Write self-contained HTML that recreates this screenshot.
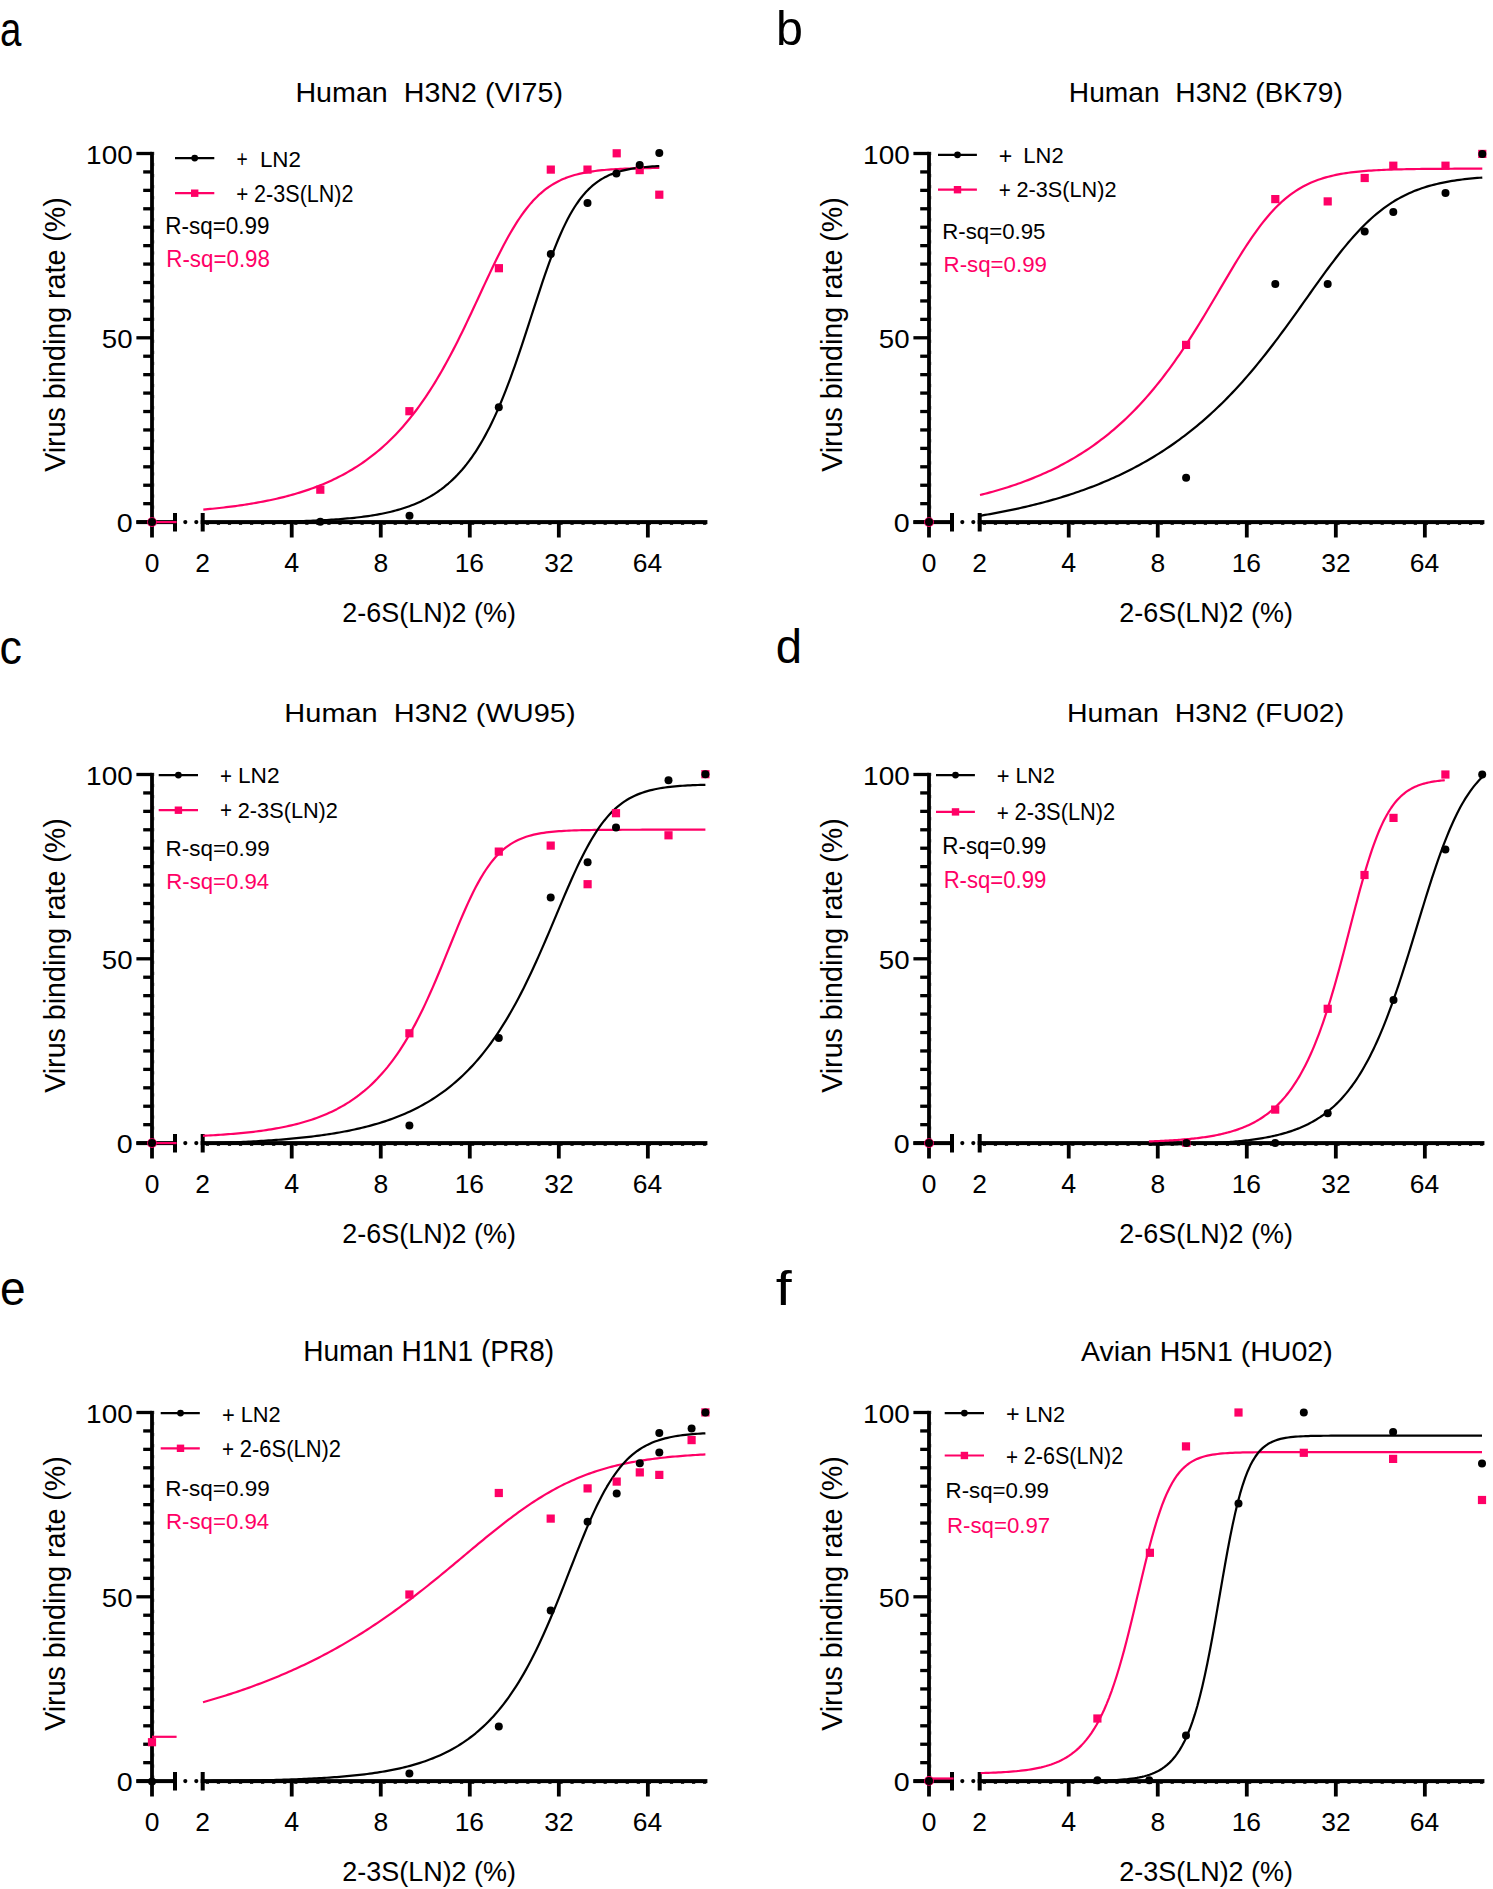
<!DOCTYPE html>
<html><head><meta charset="utf-8"><style>
html,body{margin:0;padding:0;background:#fff;}
svg{display:block;}
text{font-family:"Liberation Sans", sans-serif;}
</style></head><body>
<svg width="1493" height="1889" viewBox="0 0 1493 1889">
<rect width="1493" height="1889" fill="#fff"/>
<text x="-0.04" y="45.80" font-size="48.00" textLength="21.39" lengthAdjust="spacingAndGlyphs" fill="#000" xml:space="preserve">a</text>
<text x="776.10" y="45.00" font-size="48.00" textLength="26.89" lengthAdjust="spacingAndGlyphs" fill="#000" xml:space="preserve">b</text>
<text x="-0.39" y="663.80" font-size="48.00" textLength="22.41" lengthAdjust="spacingAndGlyphs" fill="#000" xml:space="preserve">c</text>
<text x="775.71" y="663.40" font-size="48.00" textLength="26.28" lengthAdjust="spacingAndGlyphs" fill="#000" xml:space="preserve">d</text>
<text x="-0.04" y="1305.20" font-size="48.00" textLength="25.64" lengthAdjust="spacingAndGlyphs" fill="#000" xml:space="preserve">e</text>
<text x="775.83" y="1304.60" font-size="48.00" textLength="15.95" lengthAdjust="spacingAndGlyphs" fill="#000" xml:space="preserve">f</text>
<text x="295.41" y="101.70" font-size="27.91" textLength="267.53" lengthAdjust="spacingAndGlyphs" fill="#000" xml:space="preserve">Human  H3N2 (VI75)</text>
<text x="1068.85" y="102.10" font-size="27.62" textLength="274.04" lengthAdjust="spacingAndGlyphs" fill="#000" xml:space="preserve">Human  H3N2 (BK79)</text>
<text x="284.38" y="722.10" font-size="26.45" textLength="291.21" lengthAdjust="spacingAndGlyphs" fill="#000" xml:space="preserve">Human  H3N2 (WU95)</text>
<text x="1067.02" y="722.10" font-size="26.45" textLength="277.20" lengthAdjust="spacingAndGlyphs" fill="#000" xml:space="preserve">Human  H3N2 (FU02)</text>
<text x="303.16" y="1360.90" font-size="29.07" textLength="251.06" lengthAdjust="spacingAndGlyphs" fill="#000" xml:space="preserve">Human H1N1 (PR8)</text>
<text x="1081.00" y="1361.10" font-size="28.20" textLength="251.67" lengthAdjust="spacingAndGlyphs" fill="#000" xml:space="preserve">Avian H5N1 (HU02)</text>
<rect x="150.10" y="151.85" width="3.80" height="385.65" fill="#000"/>
<rect x="136.40" y="520.45" width="15.60" height="3.30" fill="#000"/>
<rect x="143.20" y="502.02" width="8.80" height="3.30" fill="#000"/>
<rect x="143.20" y="483.59" width="8.80" height="3.30" fill="#000"/>
<rect x="143.20" y="465.16" width="8.80" height="3.30" fill="#000"/>
<rect x="143.20" y="446.73" width="8.80" height="3.30" fill="#000"/>
<rect x="143.20" y="428.30" width="8.80" height="3.30" fill="#000"/>
<rect x="143.20" y="409.87" width="8.80" height="3.30" fill="#000"/>
<rect x="143.20" y="391.44" width="8.80" height="3.30" fill="#000"/>
<rect x="143.20" y="373.01" width="8.80" height="3.30" fill="#000"/>
<rect x="143.20" y="354.58" width="8.80" height="3.30" fill="#000"/>
<rect x="136.40" y="336.15" width="15.60" height="3.30" fill="#000"/>
<rect x="143.20" y="317.72" width="8.80" height="3.30" fill="#000"/>
<rect x="143.20" y="299.29" width="8.80" height="3.30" fill="#000"/>
<rect x="143.20" y="280.86" width="8.80" height="3.30" fill="#000"/>
<rect x="143.20" y="262.43" width="8.80" height="3.30" fill="#000"/>
<rect x="143.20" y="244.00" width="8.80" height="3.30" fill="#000"/>
<rect x="143.20" y="225.57" width="8.80" height="3.30" fill="#000"/>
<rect x="143.20" y="207.14" width="8.80" height="3.30" fill="#000"/>
<rect x="143.20" y="188.71" width="8.80" height="3.30" fill="#000"/>
<rect x="143.20" y="170.28" width="8.80" height="3.30" fill="#000"/>
<rect x="136.40" y="151.85" width="15.60" height="3.30" fill="#000"/>
<rect x="136.40" y="520.10" width="40.60" height="4.00" fill="#000"/>
<rect x="173.00" y="513.00" width="4.00" height="18.50" fill="#000"/>
<circle cx="185.30" cy="522.10" r="2.1" fill="#000"/>
<circle cx="196.30" cy="522.10" r="2.1" fill="#000"/>
<rect x="200.70" y="513.00" width="4.00" height="18.50" fill="#000"/>
<rect x="200.70" y="520.10" width="506.70" height="4.00" fill="#000"/>
<rect x="289.83" y="522.10" width="3.80" height="15.40" fill="#000"/>
<rect x="378.86" y="522.10" width="3.80" height="15.40" fill="#000"/>
<rect x="467.89" y="522.10" width="3.80" height="15.40" fill="#000"/>
<rect x="556.92" y="522.10" width="3.80" height="15.40" fill="#000"/>
<rect x="645.95" y="522.10" width="3.80" height="15.40" fill="#000"/>
<line x1="205.80" y1="524.40" x2="707.40" y2="524.40" stroke="#000" stroke-opacity="0.8" stroke-width="1.1" stroke-dasharray="3.2 7.85"/>
<line x1="153.90" y1="151.90" x2="153.90" y2="522.10" stroke="#000" stroke-opacity="0.5" stroke-width="0.8" stroke-dasharray="3.2 7.85"/>
<text x="86.11" y="163.75" font-size="26.43" textLength="46.57" lengthAdjust="spacingAndGlyphs" fill="#000" xml:space="preserve">100</text>
<text x="101.89" y="348.05" font-size="26.43" textLength="30.74" lengthAdjust="spacingAndGlyphs" fill="#000" xml:space="preserve">50</text>
<text x="116.70" y="532.35" font-size="26.43" textLength="15.94" lengthAdjust="spacingAndGlyphs" fill="#000" xml:space="preserve">0</text>
<text x="144.67" y="571.50" font-size="26.43" textLength="14.70" lengthAdjust="spacingAndGlyphs" fill="#000" xml:space="preserve">0</text>
<text x="195.30" y="571.50" font-size="26.43" textLength="14.70" lengthAdjust="spacingAndGlyphs" fill="#000" xml:space="preserve">2</text>
<text x="284.36" y="571.50" font-size="26.81" textLength="14.91" lengthAdjust="spacingAndGlyphs" fill="#000" xml:space="preserve">4</text>
<text x="373.43" y="571.50" font-size="26.43" textLength="14.70" lengthAdjust="spacingAndGlyphs" fill="#000" xml:space="preserve">8</text>
<text x="454.66" y="571.50" font-size="26.43" textLength="29.40" lengthAdjust="spacingAndGlyphs" fill="#000" xml:space="preserve">16</text>
<text x="544.28" y="571.50" font-size="26.43" textLength="29.40" lengthAdjust="spacingAndGlyphs" fill="#000" xml:space="preserve">32</text>
<text x="632.85" y="571.50" font-size="26.43" textLength="29.40" lengthAdjust="spacingAndGlyphs" fill="#000" xml:space="preserve">64</text>
<text transform="translate(65.20,471.80) rotate(-90)" x="0" y="0" font-size="29.22" textLength="274.54" lengthAdjust="spacingAndGlyphs" fill="#000" xml:space="preserve">Virus binding rate (%)</text>
<rect x="927.10" y="151.85" width="3.80" height="385.65" fill="#000"/>
<rect x="913.40" y="520.45" width="15.60" height="3.30" fill="#000"/>
<rect x="920.20" y="502.02" width="8.80" height="3.30" fill="#000"/>
<rect x="920.20" y="483.59" width="8.80" height="3.30" fill="#000"/>
<rect x="920.20" y="465.16" width="8.80" height="3.30" fill="#000"/>
<rect x="920.20" y="446.73" width="8.80" height="3.30" fill="#000"/>
<rect x="920.20" y="428.30" width="8.80" height="3.30" fill="#000"/>
<rect x="920.20" y="409.87" width="8.80" height="3.30" fill="#000"/>
<rect x="920.20" y="391.44" width="8.80" height="3.30" fill="#000"/>
<rect x="920.20" y="373.01" width="8.80" height="3.30" fill="#000"/>
<rect x="920.20" y="354.58" width="8.80" height="3.30" fill="#000"/>
<rect x="913.40" y="336.15" width="15.60" height="3.30" fill="#000"/>
<rect x="920.20" y="317.72" width="8.80" height="3.30" fill="#000"/>
<rect x="920.20" y="299.29" width="8.80" height="3.30" fill="#000"/>
<rect x="920.20" y="280.86" width="8.80" height="3.30" fill="#000"/>
<rect x="920.20" y="262.43" width="8.80" height="3.30" fill="#000"/>
<rect x="920.20" y="244.00" width="8.80" height="3.30" fill="#000"/>
<rect x="920.20" y="225.57" width="8.80" height="3.30" fill="#000"/>
<rect x="920.20" y="207.14" width="8.80" height="3.30" fill="#000"/>
<rect x="920.20" y="188.71" width="8.80" height="3.30" fill="#000"/>
<rect x="920.20" y="170.28" width="8.80" height="3.30" fill="#000"/>
<rect x="913.40" y="151.85" width="15.60" height="3.30" fill="#000"/>
<rect x="913.40" y="520.10" width="40.60" height="4.00" fill="#000"/>
<rect x="950.00" y="513.00" width="4.00" height="18.50" fill="#000"/>
<circle cx="962.30" cy="522.10" r="2.1" fill="#000"/>
<circle cx="973.30" cy="522.10" r="2.1" fill="#000"/>
<rect x="977.70" y="513.00" width="4.00" height="18.50" fill="#000"/>
<rect x="977.70" y="520.10" width="506.70" height="4.00" fill="#000"/>
<rect x="1066.83" y="522.10" width="3.80" height="15.40" fill="#000"/>
<rect x="1155.86" y="522.10" width="3.80" height="15.40" fill="#000"/>
<rect x="1244.89" y="522.10" width="3.80" height="15.40" fill="#000"/>
<rect x="1333.92" y="522.10" width="3.80" height="15.40" fill="#000"/>
<rect x="1422.95" y="522.10" width="3.80" height="15.40" fill="#000"/>
<line x1="982.80" y1="524.40" x2="1484.40" y2="524.40" stroke="#000" stroke-opacity="0.8" stroke-width="1.1" stroke-dasharray="3.2 7.85"/>
<line x1="930.90" y1="151.90" x2="930.90" y2="522.10" stroke="#000" stroke-opacity="0.5" stroke-width="0.8" stroke-dasharray="3.2 7.85"/>
<text x="863.11" y="163.75" font-size="26.43" textLength="46.57" lengthAdjust="spacingAndGlyphs" fill="#000" xml:space="preserve">100</text>
<text x="878.89" y="348.05" font-size="26.43" textLength="30.74" lengthAdjust="spacingAndGlyphs" fill="#000" xml:space="preserve">50</text>
<text x="893.70" y="532.35" font-size="26.43" textLength="15.94" lengthAdjust="spacingAndGlyphs" fill="#000" xml:space="preserve">0</text>
<text x="921.67" y="571.50" font-size="26.43" textLength="14.70" lengthAdjust="spacingAndGlyphs" fill="#000" xml:space="preserve">0</text>
<text x="972.30" y="571.50" font-size="26.43" textLength="14.70" lengthAdjust="spacingAndGlyphs" fill="#000" xml:space="preserve">2</text>
<text x="1061.36" y="571.50" font-size="26.81" textLength="14.91" lengthAdjust="spacingAndGlyphs" fill="#000" xml:space="preserve">4</text>
<text x="1150.43" y="571.50" font-size="26.43" textLength="14.70" lengthAdjust="spacingAndGlyphs" fill="#000" xml:space="preserve">8</text>
<text x="1231.66" y="571.50" font-size="26.43" textLength="29.40" lengthAdjust="spacingAndGlyphs" fill="#000" xml:space="preserve">16</text>
<text x="1321.28" y="571.50" font-size="26.43" textLength="29.40" lengthAdjust="spacingAndGlyphs" fill="#000" xml:space="preserve">32</text>
<text x="1409.85" y="571.50" font-size="26.43" textLength="29.40" lengthAdjust="spacingAndGlyphs" fill="#000" xml:space="preserve">64</text>
<text transform="translate(842.20,471.80) rotate(-90)" x="0" y="0" font-size="29.22" textLength="274.54" lengthAdjust="spacingAndGlyphs" fill="#000" xml:space="preserve">Virus binding rate (%)</text>
<rect x="150.10" y="772.85" width="3.80" height="385.65" fill="#000"/>
<rect x="136.40" y="1141.45" width="15.60" height="3.30" fill="#000"/>
<rect x="143.20" y="1123.02" width="8.80" height="3.30" fill="#000"/>
<rect x="143.20" y="1104.59" width="8.80" height="3.30" fill="#000"/>
<rect x="143.20" y="1086.16" width="8.80" height="3.30" fill="#000"/>
<rect x="143.20" y="1067.73" width="8.80" height="3.30" fill="#000"/>
<rect x="143.20" y="1049.30" width="8.80" height="3.30" fill="#000"/>
<rect x="143.20" y="1030.87" width="8.80" height="3.30" fill="#000"/>
<rect x="143.20" y="1012.44" width="8.80" height="3.30" fill="#000"/>
<rect x="143.20" y="994.01" width="8.80" height="3.30" fill="#000"/>
<rect x="143.20" y="975.58" width="8.80" height="3.30" fill="#000"/>
<rect x="136.40" y="957.15" width="15.60" height="3.30" fill="#000"/>
<rect x="143.20" y="938.72" width="8.80" height="3.30" fill="#000"/>
<rect x="143.20" y="920.29" width="8.80" height="3.30" fill="#000"/>
<rect x="143.20" y="901.86" width="8.80" height="3.30" fill="#000"/>
<rect x="143.20" y="883.43" width="8.80" height="3.30" fill="#000"/>
<rect x="143.20" y="865.00" width="8.80" height="3.30" fill="#000"/>
<rect x="143.20" y="846.57" width="8.80" height="3.30" fill="#000"/>
<rect x="143.20" y="828.14" width="8.80" height="3.30" fill="#000"/>
<rect x="143.20" y="809.71" width="8.80" height="3.30" fill="#000"/>
<rect x="143.20" y="791.28" width="8.80" height="3.30" fill="#000"/>
<rect x="136.40" y="772.85" width="15.60" height="3.30" fill="#000"/>
<rect x="136.40" y="1141.10" width="40.60" height="4.00" fill="#000"/>
<rect x="173.00" y="1134.00" width="4.00" height="18.50" fill="#000"/>
<circle cx="185.30" cy="1143.10" r="2.1" fill="#000"/>
<circle cx="196.30" cy="1143.10" r="2.1" fill="#000"/>
<rect x="200.70" y="1134.00" width="4.00" height="18.50" fill="#000"/>
<rect x="200.70" y="1141.10" width="506.70" height="4.00" fill="#000"/>
<rect x="289.83" y="1143.10" width="3.80" height="15.40" fill="#000"/>
<rect x="378.86" y="1143.10" width="3.80" height="15.40" fill="#000"/>
<rect x="467.89" y="1143.10" width="3.80" height="15.40" fill="#000"/>
<rect x="556.92" y="1143.10" width="3.80" height="15.40" fill="#000"/>
<rect x="645.95" y="1143.10" width="3.80" height="15.40" fill="#000"/>
<line x1="205.80" y1="1145.40" x2="707.40" y2="1145.40" stroke="#000" stroke-opacity="0.8" stroke-width="1.1" stroke-dasharray="3.2 7.85"/>
<line x1="153.90" y1="772.90" x2="153.90" y2="1143.10" stroke="#000" stroke-opacity="0.5" stroke-width="0.8" stroke-dasharray="3.2 7.85"/>
<text x="86.11" y="784.75" font-size="26.43" textLength="46.57" lengthAdjust="spacingAndGlyphs" fill="#000" xml:space="preserve">100</text>
<text x="101.89" y="969.05" font-size="26.43" textLength="30.74" lengthAdjust="spacingAndGlyphs" fill="#000" xml:space="preserve">50</text>
<text x="116.70" y="1153.35" font-size="26.43" textLength="15.94" lengthAdjust="spacingAndGlyphs" fill="#000" xml:space="preserve">0</text>
<text x="144.67" y="1192.50" font-size="26.43" textLength="14.70" lengthAdjust="spacingAndGlyphs" fill="#000" xml:space="preserve">0</text>
<text x="195.30" y="1192.50" font-size="26.43" textLength="14.70" lengthAdjust="spacingAndGlyphs" fill="#000" xml:space="preserve">2</text>
<text x="284.36" y="1192.50" font-size="26.81" textLength="14.91" lengthAdjust="spacingAndGlyphs" fill="#000" xml:space="preserve">4</text>
<text x="373.43" y="1192.50" font-size="26.43" textLength="14.70" lengthAdjust="spacingAndGlyphs" fill="#000" xml:space="preserve">8</text>
<text x="454.66" y="1192.50" font-size="26.43" textLength="29.40" lengthAdjust="spacingAndGlyphs" fill="#000" xml:space="preserve">16</text>
<text x="544.28" y="1192.50" font-size="26.43" textLength="29.40" lengthAdjust="spacingAndGlyphs" fill="#000" xml:space="preserve">32</text>
<text x="632.85" y="1192.50" font-size="26.43" textLength="29.40" lengthAdjust="spacingAndGlyphs" fill="#000" xml:space="preserve">64</text>
<text transform="translate(65.20,1092.80) rotate(-90)" x="0" y="0" font-size="29.22" textLength="274.54" lengthAdjust="spacingAndGlyphs" fill="#000" xml:space="preserve">Virus binding rate (%)</text>
<rect x="927.10" y="772.85" width="3.80" height="385.65" fill="#000"/>
<rect x="913.40" y="1141.45" width="15.60" height="3.30" fill="#000"/>
<rect x="920.20" y="1123.02" width="8.80" height="3.30" fill="#000"/>
<rect x="920.20" y="1104.59" width="8.80" height="3.30" fill="#000"/>
<rect x="920.20" y="1086.16" width="8.80" height="3.30" fill="#000"/>
<rect x="920.20" y="1067.73" width="8.80" height="3.30" fill="#000"/>
<rect x="920.20" y="1049.30" width="8.80" height="3.30" fill="#000"/>
<rect x="920.20" y="1030.87" width="8.80" height="3.30" fill="#000"/>
<rect x="920.20" y="1012.44" width="8.80" height="3.30" fill="#000"/>
<rect x="920.20" y="994.01" width="8.80" height="3.30" fill="#000"/>
<rect x="920.20" y="975.58" width="8.80" height="3.30" fill="#000"/>
<rect x="913.40" y="957.15" width="15.60" height="3.30" fill="#000"/>
<rect x="920.20" y="938.72" width="8.80" height="3.30" fill="#000"/>
<rect x="920.20" y="920.29" width="8.80" height="3.30" fill="#000"/>
<rect x="920.20" y="901.86" width="8.80" height="3.30" fill="#000"/>
<rect x="920.20" y="883.43" width="8.80" height="3.30" fill="#000"/>
<rect x="920.20" y="865.00" width="8.80" height="3.30" fill="#000"/>
<rect x="920.20" y="846.57" width="8.80" height="3.30" fill="#000"/>
<rect x="920.20" y="828.14" width="8.80" height="3.30" fill="#000"/>
<rect x="920.20" y="809.71" width="8.80" height="3.30" fill="#000"/>
<rect x="920.20" y="791.28" width="8.80" height="3.30" fill="#000"/>
<rect x="913.40" y="772.85" width="15.60" height="3.30" fill="#000"/>
<rect x="913.40" y="1141.10" width="40.60" height="4.00" fill="#000"/>
<rect x="950.00" y="1134.00" width="4.00" height="18.50" fill="#000"/>
<circle cx="962.30" cy="1143.10" r="2.1" fill="#000"/>
<circle cx="973.30" cy="1143.10" r="2.1" fill="#000"/>
<rect x="977.70" y="1134.00" width="4.00" height="18.50" fill="#000"/>
<rect x="977.70" y="1141.10" width="506.70" height="4.00" fill="#000"/>
<rect x="1066.83" y="1143.10" width="3.80" height="15.40" fill="#000"/>
<rect x="1155.86" y="1143.10" width="3.80" height="15.40" fill="#000"/>
<rect x="1244.89" y="1143.10" width="3.80" height="15.40" fill="#000"/>
<rect x="1333.92" y="1143.10" width="3.80" height="15.40" fill="#000"/>
<rect x="1422.95" y="1143.10" width="3.80" height="15.40" fill="#000"/>
<line x1="982.80" y1="1145.40" x2="1484.40" y2="1145.40" stroke="#000" stroke-opacity="0.8" stroke-width="1.1" stroke-dasharray="3.2 7.85"/>
<line x1="930.90" y1="772.90" x2="930.90" y2="1143.10" stroke="#000" stroke-opacity="0.5" stroke-width="0.8" stroke-dasharray="3.2 7.85"/>
<text x="863.11" y="784.75" font-size="26.43" textLength="46.57" lengthAdjust="spacingAndGlyphs" fill="#000" xml:space="preserve">100</text>
<text x="878.89" y="969.05" font-size="26.43" textLength="30.74" lengthAdjust="spacingAndGlyphs" fill="#000" xml:space="preserve">50</text>
<text x="893.70" y="1153.35" font-size="26.43" textLength="15.94" lengthAdjust="spacingAndGlyphs" fill="#000" xml:space="preserve">0</text>
<text x="921.67" y="1192.50" font-size="26.43" textLength="14.70" lengthAdjust="spacingAndGlyphs" fill="#000" xml:space="preserve">0</text>
<text x="972.30" y="1192.50" font-size="26.43" textLength="14.70" lengthAdjust="spacingAndGlyphs" fill="#000" xml:space="preserve">2</text>
<text x="1061.36" y="1192.50" font-size="26.81" textLength="14.91" lengthAdjust="spacingAndGlyphs" fill="#000" xml:space="preserve">4</text>
<text x="1150.43" y="1192.50" font-size="26.43" textLength="14.70" lengthAdjust="spacingAndGlyphs" fill="#000" xml:space="preserve">8</text>
<text x="1231.66" y="1192.50" font-size="26.43" textLength="29.40" lengthAdjust="spacingAndGlyphs" fill="#000" xml:space="preserve">16</text>
<text x="1321.28" y="1192.50" font-size="26.43" textLength="29.40" lengthAdjust="spacingAndGlyphs" fill="#000" xml:space="preserve">32</text>
<text x="1409.85" y="1192.50" font-size="26.43" textLength="29.40" lengthAdjust="spacingAndGlyphs" fill="#000" xml:space="preserve">64</text>
<text transform="translate(842.20,1092.80) rotate(-90)" x="0" y="0" font-size="29.22" textLength="274.54" lengthAdjust="spacingAndGlyphs" fill="#000" xml:space="preserve">Virus binding rate (%)</text>
<rect x="150.10" y="1410.85" width="3.80" height="385.65" fill="#000"/>
<rect x="136.40" y="1779.45" width="15.60" height="3.30" fill="#000"/>
<rect x="143.20" y="1761.02" width="8.80" height="3.30" fill="#000"/>
<rect x="143.20" y="1742.59" width="8.80" height="3.30" fill="#000"/>
<rect x="143.20" y="1724.16" width="8.80" height="3.30" fill="#000"/>
<rect x="143.20" y="1705.73" width="8.80" height="3.30" fill="#000"/>
<rect x="143.20" y="1687.30" width="8.80" height="3.30" fill="#000"/>
<rect x="143.20" y="1668.87" width="8.80" height="3.30" fill="#000"/>
<rect x="143.20" y="1650.44" width="8.80" height="3.30" fill="#000"/>
<rect x="143.20" y="1632.01" width="8.80" height="3.30" fill="#000"/>
<rect x="143.20" y="1613.58" width="8.80" height="3.30" fill="#000"/>
<rect x="136.40" y="1595.15" width="15.60" height="3.30" fill="#000"/>
<rect x="143.20" y="1576.72" width="8.80" height="3.30" fill="#000"/>
<rect x="143.20" y="1558.29" width="8.80" height="3.30" fill="#000"/>
<rect x="143.20" y="1539.86" width="8.80" height="3.30" fill="#000"/>
<rect x="143.20" y="1521.43" width="8.80" height="3.30" fill="#000"/>
<rect x="143.20" y="1503.00" width="8.80" height="3.30" fill="#000"/>
<rect x="143.20" y="1484.57" width="8.80" height="3.30" fill="#000"/>
<rect x="143.20" y="1466.14" width="8.80" height="3.30" fill="#000"/>
<rect x="143.20" y="1447.71" width="8.80" height="3.30" fill="#000"/>
<rect x="143.20" y="1429.28" width="8.80" height="3.30" fill="#000"/>
<rect x="136.40" y="1410.85" width="15.60" height="3.30" fill="#000"/>
<rect x="136.40" y="1779.10" width="40.60" height="4.00" fill="#000"/>
<rect x="173.00" y="1772.00" width="4.00" height="18.50" fill="#000"/>
<circle cx="185.30" cy="1781.10" r="2.1" fill="#000"/>
<circle cx="196.30" cy="1781.10" r="2.1" fill="#000"/>
<rect x="200.70" y="1772.00" width="4.00" height="18.50" fill="#000"/>
<rect x="200.70" y="1779.10" width="506.70" height="4.00" fill="#000"/>
<rect x="289.83" y="1781.10" width="3.80" height="15.40" fill="#000"/>
<rect x="378.86" y="1781.10" width="3.80" height="15.40" fill="#000"/>
<rect x="467.89" y="1781.10" width="3.80" height="15.40" fill="#000"/>
<rect x="556.92" y="1781.10" width="3.80" height="15.40" fill="#000"/>
<rect x="645.95" y="1781.10" width="3.80" height="15.40" fill="#000"/>
<line x1="205.80" y1="1783.40" x2="707.40" y2="1783.40" stroke="#000" stroke-opacity="0.8" stroke-width="1.1" stroke-dasharray="3.2 7.85"/>
<line x1="153.90" y1="1410.90" x2="153.90" y2="1781.10" stroke="#000" stroke-opacity="0.5" stroke-width="0.8" stroke-dasharray="3.2 7.85"/>
<text x="86.11" y="1422.75" font-size="26.43" textLength="46.57" lengthAdjust="spacingAndGlyphs" fill="#000" xml:space="preserve">100</text>
<text x="101.89" y="1607.05" font-size="26.43" textLength="30.74" lengthAdjust="spacingAndGlyphs" fill="#000" xml:space="preserve">50</text>
<text x="116.70" y="1791.35" font-size="26.43" textLength="15.94" lengthAdjust="spacingAndGlyphs" fill="#000" xml:space="preserve">0</text>
<text x="144.67" y="1830.50" font-size="26.43" textLength="14.70" lengthAdjust="spacingAndGlyphs" fill="#000" xml:space="preserve">0</text>
<text x="195.30" y="1830.50" font-size="26.43" textLength="14.70" lengthAdjust="spacingAndGlyphs" fill="#000" xml:space="preserve">2</text>
<text x="284.36" y="1830.50" font-size="26.81" textLength="14.91" lengthAdjust="spacingAndGlyphs" fill="#000" xml:space="preserve">4</text>
<text x="373.43" y="1830.50" font-size="26.43" textLength="14.70" lengthAdjust="spacingAndGlyphs" fill="#000" xml:space="preserve">8</text>
<text x="454.66" y="1830.50" font-size="26.43" textLength="29.40" lengthAdjust="spacingAndGlyphs" fill="#000" xml:space="preserve">16</text>
<text x="544.28" y="1830.50" font-size="26.43" textLength="29.40" lengthAdjust="spacingAndGlyphs" fill="#000" xml:space="preserve">32</text>
<text x="632.85" y="1830.50" font-size="26.43" textLength="29.40" lengthAdjust="spacingAndGlyphs" fill="#000" xml:space="preserve">64</text>
<text transform="translate(65.20,1730.80) rotate(-90)" x="0" y="0" font-size="29.22" textLength="274.54" lengthAdjust="spacingAndGlyphs" fill="#000" xml:space="preserve">Virus binding rate (%)</text>
<rect x="927.10" y="1410.85" width="3.80" height="385.65" fill="#000"/>
<rect x="913.40" y="1779.45" width="15.60" height="3.30" fill="#000"/>
<rect x="920.20" y="1761.02" width="8.80" height="3.30" fill="#000"/>
<rect x="920.20" y="1742.59" width="8.80" height="3.30" fill="#000"/>
<rect x="920.20" y="1724.16" width="8.80" height="3.30" fill="#000"/>
<rect x="920.20" y="1705.73" width="8.80" height="3.30" fill="#000"/>
<rect x="920.20" y="1687.30" width="8.80" height="3.30" fill="#000"/>
<rect x="920.20" y="1668.87" width="8.80" height="3.30" fill="#000"/>
<rect x="920.20" y="1650.44" width="8.80" height="3.30" fill="#000"/>
<rect x="920.20" y="1632.01" width="8.80" height="3.30" fill="#000"/>
<rect x="920.20" y="1613.58" width="8.80" height="3.30" fill="#000"/>
<rect x="913.40" y="1595.15" width="15.60" height="3.30" fill="#000"/>
<rect x="920.20" y="1576.72" width="8.80" height="3.30" fill="#000"/>
<rect x="920.20" y="1558.29" width="8.80" height="3.30" fill="#000"/>
<rect x="920.20" y="1539.86" width="8.80" height="3.30" fill="#000"/>
<rect x="920.20" y="1521.43" width="8.80" height="3.30" fill="#000"/>
<rect x="920.20" y="1503.00" width="8.80" height="3.30" fill="#000"/>
<rect x="920.20" y="1484.57" width="8.80" height="3.30" fill="#000"/>
<rect x="920.20" y="1466.14" width="8.80" height="3.30" fill="#000"/>
<rect x="920.20" y="1447.71" width="8.80" height="3.30" fill="#000"/>
<rect x="920.20" y="1429.28" width="8.80" height="3.30" fill="#000"/>
<rect x="913.40" y="1410.85" width="15.60" height="3.30" fill="#000"/>
<rect x="913.40" y="1779.10" width="40.60" height="4.00" fill="#000"/>
<rect x="950.00" y="1772.00" width="4.00" height="18.50" fill="#000"/>
<circle cx="962.30" cy="1781.10" r="2.1" fill="#000"/>
<circle cx="973.30" cy="1781.10" r="2.1" fill="#000"/>
<rect x="977.70" y="1772.00" width="4.00" height="18.50" fill="#000"/>
<rect x="977.70" y="1779.10" width="506.70" height="4.00" fill="#000"/>
<rect x="1066.83" y="1781.10" width="3.80" height="15.40" fill="#000"/>
<rect x="1155.86" y="1781.10" width="3.80" height="15.40" fill="#000"/>
<rect x="1244.89" y="1781.10" width="3.80" height="15.40" fill="#000"/>
<rect x="1333.92" y="1781.10" width="3.80" height="15.40" fill="#000"/>
<rect x="1422.95" y="1781.10" width="3.80" height="15.40" fill="#000"/>
<line x1="982.80" y1="1783.40" x2="1484.40" y2="1783.40" stroke="#000" stroke-opacity="0.8" stroke-width="1.1" stroke-dasharray="3.2 7.85"/>
<line x1="930.90" y1="1410.90" x2="930.90" y2="1781.10" stroke="#000" stroke-opacity="0.5" stroke-width="0.8" stroke-dasharray="3.2 7.85"/>
<text x="863.11" y="1422.75" font-size="26.43" textLength="46.57" lengthAdjust="spacingAndGlyphs" fill="#000" xml:space="preserve">100</text>
<text x="878.89" y="1607.05" font-size="26.43" textLength="30.74" lengthAdjust="spacingAndGlyphs" fill="#000" xml:space="preserve">50</text>
<text x="893.70" y="1791.35" font-size="26.43" textLength="15.94" lengthAdjust="spacingAndGlyphs" fill="#000" xml:space="preserve">0</text>
<text x="921.67" y="1830.50" font-size="26.43" textLength="14.70" lengthAdjust="spacingAndGlyphs" fill="#000" xml:space="preserve">0</text>
<text x="972.30" y="1830.50" font-size="26.43" textLength="14.70" lengthAdjust="spacingAndGlyphs" fill="#000" xml:space="preserve">2</text>
<text x="1061.36" y="1830.50" font-size="26.81" textLength="14.91" lengthAdjust="spacingAndGlyphs" fill="#000" xml:space="preserve">4</text>
<text x="1150.43" y="1830.50" font-size="26.43" textLength="14.70" lengthAdjust="spacingAndGlyphs" fill="#000" xml:space="preserve">8</text>
<text x="1231.66" y="1830.50" font-size="26.43" textLength="29.40" lengthAdjust="spacingAndGlyphs" fill="#000" xml:space="preserve">16</text>
<text x="1321.28" y="1830.50" font-size="26.43" textLength="29.40" lengthAdjust="spacingAndGlyphs" fill="#000" xml:space="preserve">32</text>
<text x="1409.85" y="1830.50" font-size="26.43" textLength="29.40" lengthAdjust="spacingAndGlyphs" fill="#000" xml:space="preserve">64</text>
<text transform="translate(842.20,1730.80) rotate(-90)" x="0" y="0" font-size="29.22" textLength="274.54" lengthAdjust="spacingAndGlyphs" fill="#000" xml:space="preserve">Virus binding rate (%)</text>
<text x="342.25" y="621.80" font-size="27.31" textLength="173.76" lengthAdjust="spacingAndGlyphs" fill="#000" xml:space="preserve">2-6S(LN)2 (%)</text>
<text x="1119.25" y="621.80" font-size="27.31" textLength="173.76" lengthAdjust="spacingAndGlyphs" fill="#000" xml:space="preserve">2-6S(LN)2 (%)</text>
<text x="342.25" y="1242.80" font-size="27.31" textLength="173.76" lengthAdjust="spacingAndGlyphs" fill="#000" xml:space="preserve">2-6S(LN)2 (%)</text>
<text x="1119.25" y="1242.80" font-size="27.31" textLength="173.76" lengthAdjust="spacingAndGlyphs" fill="#000" xml:space="preserve">2-6S(LN)2 (%)</text>
<text x="342.25" y="1880.80" font-size="27.31" textLength="173.76" lengthAdjust="spacingAndGlyphs" fill="#000" xml:space="preserve">2-3S(LN)2 (%)</text>
<text x="1119.25" y="1880.80" font-size="27.31" textLength="173.76" lengthAdjust="spacingAndGlyphs" fill="#000" xml:space="preserve">2-3S(LN)2 (%)</text>
<line x1="175.00" y1="158.10" x2="214.30" y2="158.10" stroke="#000" stroke-width="2.2"/>
<circle cx="194.70" cy="158.10" r="3.4" fill="#000"/>
<line x1="175.00" y1="193.20" x2="214.30" y2="193.20" stroke="#ff0066" stroke-width="2.2"/>
<rect x="191.00" y="189.50" width="7.4" height="7.4" fill="#ff0066"/>
<text x="236.44" y="167.37" font-size="23.23" textLength="11.20" lengthAdjust="spacingAndGlyphs" fill="#000" xml:space="preserve">+</text>
<text x="259.91" y="166.50" font-size="21.95" textLength="41.09" lengthAdjust="spacingAndGlyphs" fill="#000" xml:space="preserve">LN2</text>
<text x="236.37" y="202.29" font-size="23.43" textLength="12.04" lengthAdjust="spacingAndGlyphs" fill="#000" xml:space="preserve">+</text>
<text x="254.12" y="201.60" font-size="23.40" textLength="99.41" lengthAdjust="spacingAndGlyphs" fill="#000" xml:space="preserve">2-3S(LN)2</text>
<line x1="938.00" y1="154.80" x2="976.90" y2="154.80" stroke="#000" stroke-width="2.2"/>
<circle cx="957.50" cy="154.80" r="3.4" fill="#000"/>
<line x1="938.00" y1="189.70" x2="976.90" y2="189.70" stroke="#ff0066" stroke-width="2.2"/>
<rect x="953.80" y="186.00" width="7.4" height="7.4" fill="#ff0066"/>
<text x="998.66" y="163.97" font-size="23.23" textLength="13.47" lengthAdjust="spacingAndGlyphs" fill="#000" xml:space="preserve">+</text>
<text x="1023.35" y="163.10" font-size="22.38" textLength="40.23" lengthAdjust="spacingAndGlyphs" fill="#000" xml:space="preserve">LN2</text>
<text x="998.77" y="197.99" font-size="23.43" textLength="12.04" lengthAdjust="spacingAndGlyphs" fill="#000" xml:space="preserve">+</text>
<text x="1016.52" y="197.30" font-size="22.38" textLength="100.03" lengthAdjust="spacingAndGlyphs" fill="#000" xml:space="preserve">2-3S(LN)2</text>
<line x1="158.70" y1="775.10" x2="198.00" y2="775.10" stroke="#000" stroke-width="2.2"/>
<circle cx="178.40" cy="775.10" r="3.4" fill="#000"/>
<line x1="158.70" y1="810.20" x2="198.00" y2="810.20" stroke="#ff0066" stroke-width="2.2"/>
<rect x="174.70" y="806.50" width="7.4" height="7.4" fill="#ff0066"/>
<text x="220.08" y="784.27" font-size="23.23" textLength="11.92" lengthAdjust="spacingAndGlyphs" fill="#000" xml:space="preserve">+</text>
<text x="237.98" y="783.40" font-size="22.82" textLength="41.63" lengthAdjust="spacingAndGlyphs" fill="#000" xml:space="preserve">LN2</text>
<text x="220.07" y="818.39" font-size="23.43" textLength="12.04" lengthAdjust="spacingAndGlyphs" fill="#000" xml:space="preserve">+</text>
<text x="237.81" y="817.70" font-size="22.97" textLength="100.13" lengthAdjust="spacingAndGlyphs" fill="#000" xml:space="preserve">2-3S(LN)2</text>
<line x1="936.00" y1="775.10" x2="974.90" y2="775.10" stroke="#000" stroke-width="2.2"/>
<circle cx="955.50" cy="775.10" r="3.4" fill="#000"/>
<line x1="936.00" y1="811.90" x2="974.90" y2="811.90" stroke="#ff0066" stroke-width="2.2"/>
<rect x="951.80" y="808.20" width="7.4" height="7.4" fill="#ff0066"/>
<text x="996.72" y="783.97" font-size="23.23" textLength="12.75" lengthAdjust="spacingAndGlyphs" fill="#000" xml:space="preserve">+</text>
<text x="1015.38" y="783.10" font-size="22.38" textLength="39.48" lengthAdjust="spacingAndGlyphs" fill="#000" xml:space="preserve">LN2</text>
<text x="996.77" y="820.69" font-size="23.43" textLength="12.04" lengthAdjust="spacingAndGlyphs" fill="#000" xml:space="preserve">+</text>
<text x="1014.51" y="820.00" font-size="23.40" textLength="100.74" lengthAdjust="spacingAndGlyphs" fill="#000" xml:space="preserve">2-3S(LN)2</text>
<line x1="160.70" y1="1413.10" x2="199.80" y2="1413.10" stroke="#000" stroke-width="2.2"/>
<circle cx="180.50" cy="1413.10" r="3.4" fill="#000"/>
<line x1="160.70" y1="1448.30" x2="199.80" y2="1448.30" stroke="#ff0066" stroke-width="2.2"/>
<rect x="176.80" y="1444.60" width="7.4" height="7.4" fill="#ff0066"/>
<text x="222.02" y="1422.67" font-size="23.23" textLength="12.75" lengthAdjust="spacingAndGlyphs" fill="#000" xml:space="preserve">+</text>
<text x="240.65" y="1421.80" font-size="22.38" textLength="40.02" lengthAdjust="spacingAndGlyphs" fill="#000" xml:space="preserve">LN2</text>
<text x="222.07" y="1457.29" font-size="23.43" textLength="12.04" lengthAdjust="spacingAndGlyphs" fill="#000" xml:space="preserve">+</text>
<text x="239.80" y="1456.60" font-size="23.40" textLength="101.25" lengthAdjust="spacingAndGlyphs" fill="#000" xml:space="preserve">2-6S(LN)2</text>
<line x1="944.70" y1="1413.10" x2="984.00" y2="1413.10" stroke="#000" stroke-width="2.2"/>
<circle cx="964.40" cy="1413.10" r="3.4" fill="#000"/>
<line x1="944.70" y1="1455.50" x2="984.00" y2="1455.50" stroke="#ff0066" stroke-width="2.2"/>
<rect x="960.70" y="1451.80" width="7.4" height="7.4" fill="#ff0066"/>
<text x="1005.95" y="1422.37" font-size="23.23" textLength="13.59" lengthAdjust="spacingAndGlyphs" fill="#000" xml:space="preserve">+</text>
<text x="1025.16" y="1421.50" font-size="22.53" textLength="39.80" lengthAdjust="spacingAndGlyphs" fill="#000" xml:space="preserve">LN2</text>
<text x="1006.07" y="1464.69" font-size="23.43" textLength="12.04" lengthAdjust="spacingAndGlyphs" fill="#000" xml:space="preserve">+</text>
<text x="1023.82" y="1464.00" font-size="23.40" textLength="99.41" lengthAdjust="spacingAndGlyphs" fill="#000" xml:space="preserve">2-6S(LN)2</text>
<text x="165.30" y="233.60" font-size="23.98" textLength="104.25" lengthAdjust="spacingAndGlyphs" fill="#000" xml:space="preserve">R-sq=0.99</text>
<text x="166.31" y="267.30" font-size="23.40" textLength="103.62" lengthAdjust="spacingAndGlyphs" fill="#ff0066" xml:space="preserve">R-sq=0.98</text>
<text x="942.32" y="238.80" font-size="22.38" textLength="103.10" lengthAdjust="spacingAndGlyphs" fill="#000" xml:space="preserve">R-sq=0.95</text>
<text x="943.62" y="272.30" font-size="22.38" textLength="103.32" lengthAdjust="spacingAndGlyphs" fill="#ff0066" xml:space="preserve">R-sq=0.99</text>
<text x="165.61" y="855.50" font-size="21.51" textLength="104.04" lengthAdjust="spacingAndGlyphs" fill="#000" xml:space="preserve">R-sq=0.99</text>
<text x="166.33" y="889.00" font-size="21.51" textLength="102.86" lengthAdjust="spacingAndGlyphs" fill="#ff0066" xml:space="preserve">R-sq=0.94</text>
<text x="942.31" y="854.10" font-size="23.26" textLength="103.94" lengthAdjust="spacingAndGlyphs" fill="#000" xml:space="preserve">R-sq=0.99</text>
<text x="943.63" y="887.60" font-size="23.40" textLength="102.60" lengthAdjust="spacingAndGlyphs" fill="#ff0066" xml:space="preserve">R-sq=0.99</text>
<text x="165.30" y="1495.50" font-size="22.38" textLength="104.35" lengthAdjust="spacingAndGlyphs" fill="#000" xml:space="preserve">R-sq=0.99</text>
<text x="166.02" y="1529.00" font-size="22.38" textLength="103.17" lengthAdjust="spacingAndGlyphs" fill="#ff0066" xml:space="preserve">R-sq=0.94</text>
<text x="945.62" y="1498.40" font-size="21.80" textLength="103.32" lengthAdjust="spacingAndGlyphs" fill="#000" xml:space="preserve">R-sq=0.99</text>
<text x="947.02" y="1533.00" font-size="22.38" textLength="103.22" lengthAdjust="spacingAndGlyphs" fill="#ff0066" xml:space="preserve">R-sq=0.97</text>
<path d="M203.30,509.60 L205.59,509.39 L207.88,509.17 L210.17,508.95 L212.47,508.73 L214.76,508.49 L217.05,508.25 L219.34,508.00 L221.63,507.75 L223.92,507.49 L226.21,507.21 L228.51,506.94 L230.80,506.65 L233.09,506.35 L235.38,506.05 L237.67,505.73 L239.96,505.41 L242.25,505.08 L244.55,504.74 L246.84,504.38 L249.13,504.02 L251.42,503.64 L253.71,503.26 L256.00,502.86 L258.29,502.45 L260.59,502.03 L262.88,501.60 L265.17,501.15 L267.46,500.69 L269.75,500.22 L272.04,499.73 L274.34,499.23 L276.63,498.71 L278.92,498.18 L281.21,497.63 L283.50,497.06 L285.79,496.48 L288.08,495.88 L290.38,495.26 L292.67,494.63 L294.96,493.97 L297.25,493.30 L299.54,492.60 L301.83,491.89 L304.12,491.15 L306.42,490.39 L308.71,489.61 L311.00,488.81 L313.29,487.98 L315.58,487.13 L317.87,486.25 L320.16,485.34 L322.46,484.41 L324.75,483.45 L327.04,482.47 L329.33,481.45 L331.62,480.40 L333.91,479.32 L336.20,478.21 L338.50,477.07 L340.79,475.89 L343.08,474.68 L345.37,473.43 L347.66,472.14 L349.95,470.82 L352.24,469.45 L354.54,468.05 L356.83,466.60 L359.12,465.12 L361.41,463.58 L363.70,462.01 L365.99,460.38 L368.28,458.71 L370.58,456.99 L372.87,455.22 L375.16,453.40 L377.45,451.52 L379.74,449.59 L382.03,447.60 L384.33,445.55 L386.62,443.45 L388.91,441.28 L391.20,439.05 L393.49,436.76 L395.78,434.40 L398.07,431.98 L400.37,429.48 L402.66,426.92 L404.95,424.28 L407.24,421.57 L409.53,418.79 L411.82,415.93 L414.11,412.99 L416.41,409.97 L418.70,406.87 L420.99,403.68 L423.28,400.42 L425.57,397.07 L427.86,393.63 L430.15,390.11 L432.45,386.50 L434.74,382.80 L437.03,379.02 L439.32,375.15 L441.61,371.19 L443.90,367.14 L446.19,363.01 L448.49,358.80 L450.78,354.50 L453.07,350.13 L455.36,345.67 L457.65,341.15 L459.94,336.55 L462.23,331.89 L464.53,327.17 L466.82,322.39 L469.11,317.57 L471.40,312.70 L473.69,307.80 L475.98,302.88 L478.27,297.94 L480.57,293.00 L482.86,288.05 L485.15,283.13 L487.44,278.22 L489.73,273.36 L492.02,268.54 L494.32,263.78 L496.61,259.09 L498.90,254.48 L501.19,249.97 L503.48,245.56 L505.77,241.26 L508.06,237.08 L510.36,233.02 L512.65,229.11 L514.94,225.33 L517.23,221.71 L519.52,218.23 L521.81,214.91 L524.10,211.74 L526.40,208.72 L528.69,205.86 L530.98,203.16 L533.27,200.60 L535.56,198.19 L537.85,195.93 L540.14,193.81 L542.44,191.82 L544.73,189.96 L547.02,188.23 L549.31,186.62 L551.60,185.11 L553.89,183.72 L556.18,182.43 L558.48,181.23 L560.77,180.12 L563.06,179.10 L565.35,178.15 L567.64,177.28 L569.93,176.48 L572.22,175.74 L574.52,175.06 L576.81,174.44 L579.10,173.86 L581.39,173.34 L583.68,172.85 L585.97,172.41 L588.26,172.00 L590.56,171.63 L592.85,171.29 L595.14,170.98 L597.43,170.69 L599.72,170.43 L602.01,170.19 L604.31,169.97 L606.60,169.77 L608.89,169.59 L611.18,169.42 L613.47,169.27 L615.76,169.13 L618.05,169.00 L620.35,168.89 L622.64,168.78 L624.93,168.68 L627.22,168.60 L629.51,168.52 L631.80,168.44 L634.09,168.37 L636.39,168.31 L638.68,168.26 L640.97,168.21 L643.26,168.16 L645.55,168.12 L647.84,168.08 L650.13,168.04 L652.43,168.01 L654.72,167.98 L657.01,167.95 L659.30,167.93" fill="none" stroke="#ff0066" stroke-width="2.2" stroke-linejoin="round"/>
<path d="M203.00,522.40 L205.29,522.39 L207.59,522.39 L209.88,522.38 L212.17,522.37 L214.46,522.36 L216.76,522.35 L219.05,522.33 L221.34,522.32 L223.64,522.31 L225.93,522.29 L228.22,522.28 L230.52,522.27 L232.81,522.25 L235.10,522.23 L237.39,522.22 L239.69,522.20 L241.98,522.18 L244.27,522.16 L246.57,522.14 L248.86,522.11 L251.15,522.09 L253.45,522.07 L255.74,522.04 L258.03,522.01 L260.32,521.98 L262.62,521.95 L264.91,521.92 L267.20,521.89 L269.50,521.85 L271.79,521.81 L274.08,521.77 L276.37,521.73 L278.67,521.69 L280.96,521.64 L283.25,521.59 L285.55,521.54 L287.84,521.49 L290.13,521.43 L292.43,521.37 L294.72,521.31 L297.01,521.24 L299.30,521.17 L301.60,521.10 L303.89,521.02 L306.18,520.94 L308.48,520.85 L310.77,520.76 L313.06,520.67 L315.36,520.57 L317.65,520.46 L319.94,520.35 L322.23,520.24 L324.53,520.11 L326.82,519.98 L329.11,519.85 L331.41,519.70 L333.70,519.55 L335.99,519.40 L338.28,519.23 L340.58,519.05 L342.87,518.87 L345.16,518.67 L347.46,518.47 L349.75,518.25 L352.04,518.03 L354.34,517.79 L356.63,517.53 L358.92,517.27 L361.21,516.99 L363.51,516.70 L365.80,516.39 L368.09,516.06 L370.39,515.72 L372.68,515.36 L374.97,514.98 L377.27,514.58 L379.56,514.16 L381.85,513.72 L384.14,513.25 L386.44,512.76 L388.73,512.24 L391.02,511.70 L393.32,511.13 L395.61,510.53 L397.90,509.89 L400.19,509.23 L402.49,508.52 L404.78,507.79 L407.07,507.01 L409.37,506.19 L411.66,505.33 L413.95,504.42 L416.25,503.47 L418.54,502.47 L420.83,501.41 L423.12,500.30 L425.42,499.13 L427.71,497.90 L430.00,496.61 L432.30,495.25 L434.59,493.82 L436.88,492.31 L439.18,490.73 L441.47,489.07 L443.76,487.32 L446.05,485.48 L448.35,483.55 L450.64,481.52 L452.93,479.38 L455.23,477.14 L457.52,474.79 L459.81,472.32 L462.11,469.72 L464.40,467.00 L466.69,464.15 L468.98,461.16 L471.28,458.02 L473.57,454.73 L475.86,451.29 L478.16,447.69 L480.45,443.93 L482.74,440.00 L485.03,435.89 L487.33,431.60 L489.62,427.14 L491.91,422.48 L494.21,417.64 L496.50,412.61 L498.79,407.40 L501.09,401.99 L503.38,396.39 L505.67,390.61 L507.96,384.66 L510.26,378.52 L512.55,372.23 L514.84,365.77 L517.14,359.18 L519.43,352.45 L521.72,345.61 L524.02,338.68 L526.31,331.67 L528.60,324.60 L530.89,317.51 L533.19,310.41 L535.48,303.33 L537.77,296.29 L540.07,289.33 L542.36,282.46 L544.65,275.71 L546.94,269.11 L549.24,262.69 L551.53,256.45 L553.82,250.42 L556.12,244.61 L558.41,239.04 L560.70,233.72 L563.00,228.66 L565.29,223.86 L567.58,219.32 L569.87,215.04 L572.17,211.03 L574.46,207.27 L576.75,203.76 L579.05,200.50 L581.34,197.46 L583.63,194.65 L585.93,192.06 L588.22,189.66 L590.51,187.46 L592.80,185.43 L595.10,183.57 L597.39,181.87 L599.68,180.31 L601.98,178.89 L604.27,177.59 L606.56,176.41 L608.85,175.33 L611.15,174.35 L613.44,173.46 L615.73,172.65 L618.03,171.92 L620.32,171.25 L622.61,170.65 L624.91,170.10 L627.20,169.60 L629.49,169.16 L631.78,168.75 L634.08,168.38 L636.37,168.05 L638.66,167.75 L640.96,167.48 L643.25,167.23 L645.54,167.01 L647.84,166.81 L650.13,166.63 L652.42,166.47 L654.71,166.32 L657.01,166.19 L659.30,166.07" fill="none" stroke="#000" stroke-width="2.2" stroke-linejoin="round"/>
<path d="M980.00,494.99 L982.52,494.37 L985.05,493.72 L987.57,493.07 L990.10,492.39 L992.62,491.70 L995.14,491.00 L997.67,490.27 L1000.19,489.53 L1002.72,488.77 L1005.24,488.00 L1007.77,487.20 L1010.29,486.39 L1012.81,485.56 L1015.34,484.70 L1017.86,483.83 L1020.39,482.94 L1022.91,482.02 L1025.43,481.08 L1027.96,480.12 L1030.48,479.14 L1033.01,478.13 L1035.53,477.10 L1038.05,476.05 L1040.58,474.97 L1043.10,473.86 L1045.63,472.73 L1048.15,471.57 L1050.68,470.38 L1053.20,469.17 L1055.72,467.92 L1058.25,466.65 L1060.77,465.35 L1063.30,464.01 L1065.82,462.65 L1068.34,461.25 L1070.87,459.81 L1073.39,458.35 L1075.92,456.85 L1078.44,455.31 L1080.96,453.74 L1083.49,452.13 L1086.01,450.48 L1088.54,448.79 L1091.06,447.07 L1093.59,445.30 L1096.11,443.49 L1098.63,441.64 L1101.16,439.74 L1103.68,437.81 L1106.21,435.82 L1108.73,433.79 L1111.25,431.71 L1113.78,429.59 L1116.30,427.41 L1118.83,425.19 L1121.35,422.91 L1123.87,420.59 L1126.40,418.20 L1128.92,415.77 L1131.45,413.28 L1133.97,410.74 L1136.50,408.13 L1139.02,405.47 L1141.54,402.76 L1144.07,399.98 L1146.59,397.14 L1149.12,394.24 L1151.64,391.28 L1154.16,388.26 L1156.69,385.17 L1159.21,382.03 L1161.74,378.82 L1164.26,375.54 L1166.78,372.20 L1169.31,368.80 L1171.83,365.33 L1174.36,361.81 L1176.88,358.21 L1179.41,354.56 L1181.93,350.85 L1184.45,347.07 L1186.98,343.24 L1189.50,339.35 L1192.03,335.41 L1194.55,331.41 L1197.07,327.37 L1199.60,323.28 L1202.12,319.15 L1204.65,314.98 L1207.17,310.78 L1209.69,306.54 L1212.22,302.29 L1214.74,298.01 L1217.27,293.72 L1219.79,289.43 L1222.32,285.13 L1224.84,280.84 L1227.36,276.57 L1229.89,272.32 L1232.41,268.10 L1234.94,263.92 L1237.46,259.79 L1239.98,255.71 L1242.51,251.69 L1245.03,247.74 L1247.56,243.87 L1250.08,240.08 L1252.61,236.39 L1255.13,232.79 L1257.65,229.30 L1260.18,225.91 L1262.70,222.64 L1265.23,219.48 L1267.75,216.45 L1270.27,213.53 L1272.80,210.74 L1275.32,208.07 L1277.85,205.53 L1280.37,203.11 L1282.89,200.81 L1285.42,198.63 L1287.94,196.58 L1290.47,194.63 L1292.99,192.80 L1295.52,191.08 L1298.04,189.46 L1300.56,187.94 L1303.09,186.52 L1305.61,185.20 L1308.14,183.96 L1310.66,182.80 L1313.18,181.72 L1315.71,180.72 L1318.23,179.79 L1320.76,178.93 L1323.28,178.12 L1325.80,177.38 L1328.33,176.69 L1330.85,176.06 L1333.38,175.47 L1335.90,174.92 L1338.43,174.42 L1340.95,173.95 L1343.47,173.52 L1346.00,173.13 L1348.52,172.77 L1351.05,172.43 L1353.57,172.12 L1356.09,171.84 L1358.62,171.57 L1361.14,171.33 L1363.67,171.11 L1366.19,170.91 L1368.71,170.72 L1371.24,170.54 L1373.76,170.39 L1376.29,170.24 L1378.81,170.11 L1381.34,169.98 L1383.86,169.87 L1386.38,169.77 L1388.91,169.67 L1391.43,169.58 L1393.96,169.50 L1396.48,169.43 L1399.00,169.36 L1401.53,169.30 L1404.05,169.24 L1406.58,169.19 L1409.10,169.14 L1411.62,169.10 L1414.15,169.06 L1416.67,169.02 L1419.20,168.98 L1421.72,168.95 L1424.25,168.92 L1426.77,168.90 L1429.29,168.87 L1431.82,168.85 L1434.34,168.83 L1436.87,168.81 L1439.39,168.79 L1441.91,168.78 L1444.44,168.76 L1446.96,168.75 L1449.49,168.74 L1452.01,168.73 L1454.53,168.72 L1457.06,168.71 L1459.58,168.70 L1462.11,168.69 L1464.63,168.68 L1467.16,168.68 L1469.68,168.67 L1472.20,168.67 L1474.73,168.66 L1477.25,168.66 L1479.78,168.65 L1482.30,168.65" fill="none" stroke="#ff0066" stroke-width="2.2" stroke-linejoin="round"/>
<path d="M980.00,515.79 L982.52,515.37 L985.05,514.94 L987.57,514.51 L990.10,514.06 L992.62,513.61 L995.14,513.14 L997.67,512.67 L1000.19,512.19 L1002.72,511.70 L1005.24,511.20 L1007.77,510.69 L1010.29,510.17 L1012.81,509.64 L1015.34,509.10 L1017.86,508.56 L1020.39,508.00 L1022.91,507.43 L1025.43,506.84 L1027.96,506.25 L1030.48,505.65 L1033.01,505.03 L1035.53,504.41 L1038.05,503.77 L1040.58,503.12 L1043.10,502.45 L1045.63,501.78 L1048.15,501.09 L1050.68,500.38 L1053.20,499.67 L1055.72,498.94 L1058.25,498.19 L1060.77,497.44 L1063.30,496.66 L1065.82,495.88 L1068.34,495.08 L1070.87,494.26 L1073.39,493.42 L1075.92,492.58 L1078.44,491.71 L1080.96,490.83 L1083.49,489.93 L1086.01,489.01 L1088.54,488.08 L1091.06,487.13 L1093.59,486.16 L1096.11,485.17 L1098.63,484.17 L1101.16,483.14 L1103.68,482.10 L1106.21,481.03 L1108.73,479.95 L1111.25,478.84 L1113.78,477.71 L1116.30,476.56 L1118.83,475.39 L1121.35,474.20 L1123.87,472.99 L1126.40,471.75 L1128.92,470.49 L1131.45,469.20 L1133.97,467.89 L1136.50,466.55 L1139.02,465.19 L1141.54,463.81 L1144.07,462.40 L1146.59,460.96 L1149.12,459.49 L1151.64,458.00 L1154.16,456.48 L1156.69,454.93 L1159.21,453.35 L1161.74,451.74 L1164.26,450.10 L1166.78,448.43 L1169.31,446.73 L1171.83,445.00 L1174.36,443.23 L1176.88,441.44 L1179.41,439.61 L1181.93,437.74 L1184.45,435.84 L1186.98,433.91 L1189.50,431.94 L1192.03,429.94 L1194.55,427.90 L1197.07,425.82 L1199.60,423.71 L1202.12,421.56 L1204.65,419.37 L1207.17,417.14 L1209.69,414.87 L1212.22,412.56 L1214.74,410.21 L1217.27,407.82 L1219.79,405.39 L1222.32,402.92 L1224.84,400.41 L1227.36,397.86 L1229.89,395.26 L1232.41,392.62 L1234.94,389.94 L1237.46,387.22 L1239.98,384.45 L1242.51,381.65 L1245.03,378.80 L1247.56,375.90 L1250.08,372.97 L1252.61,369.99 L1255.13,366.97 L1257.65,363.91 L1260.18,360.81 L1262.70,357.67 L1265.23,354.50 L1267.75,351.28 L1270.27,348.03 L1272.80,344.74 L1275.32,341.42 L1277.85,338.07 L1280.37,334.68 L1282.89,331.27 L1285.42,327.83 L1287.94,324.36 L1290.47,320.87 L1292.99,317.36 L1295.52,313.84 L1298.04,310.30 L1300.56,306.75 L1303.09,303.19 L1305.61,299.63 L1308.14,296.07 L1310.66,292.51 L1313.18,288.95 L1315.71,285.41 L1318.23,281.89 L1320.76,278.38 L1323.28,274.90 L1325.80,271.44 L1328.33,268.02 L1330.85,264.63 L1333.38,261.29 L1335.90,257.99 L1338.43,254.74 L1340.95,251.54 L1343.47,248.41 L1346.00,245.33 L1348.52,242.31 L1351.05,239.37 L1353.57,236.49 L1356.09,233.69 L1358.62,230.96 L1361.14,228.31 L1363.67,225.74 L1366.19,223.25 L1368.71,220.85 L1371.24,218.52 L1373.76,216.28 L1376.29,214.13 L1378.81,212.05 L1381.34,210.06 L1383.86,208.15 L1386.38,206.32 L1388.91,204.58 L1391.43,202.91 L1393.96,201.31 L1396.48,199.80 L1399.00,198.35 L1401.53,196.98 L1404.05,195.67 L1406.58,194.44 L1409.10,193.26 L1411.62,192.15 L1414.15,191.10 L1416.67,190.11 L1419.20,189.17 L1421.72,188.29 L1424.25,187.45 L1426.77,186.66 L1429.29,185.92 L1431.82,185.22 L1434.34,184.57 L1436.87,183.95 L1439.39,183.37 L1441.91,182.82 L1444.44,182.31 L1446.96,181.83 L1449.49,181.38 L1452.01,180.96 L1454.53,180.56 L1457.06,180.19 L1459.58,179.84 L1462.11,179.52 L1464.63,179.21 L1467.16,178.93 L1469.68,178.66 L1472.20,178.41 L1474.73,178.18 L1477.25,177.96 L1479.78,177.75 L1482.30,177.56" fill="none" stroke="#000" stroke-width="2.2" stroke-linejoin="round"/>
<path d="M203.00,1135.78 L205.52,1135.65 L208.05,1135.52 L210.57,1135.38 L213.10,1135.24 L215.62,1135.08 L218.15,1134.93 L220.67,1134.76 L223.20,1134.59 L225.72,1134.41 L228.25,1134.22 L230.77,1134.02 L233.30,1133.81 L235.82,1133.60 L238.34,1133.37 L240.87,1133.14 L243.39,1132.89 L245.92,1132.63 L248.44,1132.36 L250.97,1132.08 L253.49,1131.79 L256.02,1131.48 L258.54,1131.16 L261.07,1130.82 L263.59,1130.47 L266.12,1130.10 L268.64,1129.71 L271.16,1129.31 L273.69,1128.89 L276.21,1128.45 L278.74,1127.99 L281.26,1127.51 L283.79,1127.00 L286.31,1126.48 L288.84,1125.93 L291.36,1125.35 L293.89,1124.75 L296.41,1124.12 L298.94,1123.47 L301.46,1122.78 L303.98,1122.06 L306.51,1121.31 L309.03,1120.53 L311.56,1119.71 L314.08,1118.85 L316.61,1117.95 L319.13,1117.01 L321.66,1116.03 L324.18,1115.01 L326.71,1113.94 L329.23,1112.82 L331.76,1111.65 L334.28,1110.42 L336.81,1109.15 L339.33,1107.81 L341.85,1106.41 L344.38,1104.95 L346.90,1103.42 L349.43,1101.83 L351.95,1100.16 L354.48,1098.42 L357.00,1096.60 L359.53,1094.70 L362.05,1092.71 L364.58,1090.64 L367.10,1088.47 L369.63,1086.21 L372.15,1083.84 L374.67,1081.37 L377.20,1078.80 L379.72,1076.11 L382.25,1073.30 L384.77,1070.38 L387.30,1067.33 L389.82,1064.15 L392.35,1060.83 L394.87,1057.38 L397.40,1053.78 L399.92,1050.04 L402.45,1046.16 L404.97,1042.11 L407.49,1037.92 L410.02,1033.56 L412.54,1029.05 L415.07,1024.38 L417.59,1019.54 L420.12,1014.55 L422.64,1009.40 L425.17,1004.10 L427.69,998.65 L430.22,993.06 L432.74,987.33 L435.27,981.49 L437.79,975.53 L440.31,969.48 L442.84,963.36 L445.36,957.17 L447.89,950.95 L450.41,944.72 L452.94,938.50 L455.46,932.32 L457.99,926.20 L460.51,920.17 L463.04,914.26 L465.56,908.50 L468.09,902.90 L470.61,897.50 L473.13,892.31 L475.66,887.35 L478.18,882.62 L480.71,878.16 L483.23,873.95 L485.76,870.00 L488.28,866.32 L490.81,862.90 L493.33,859.73 L495.86,856.81 L498.38,854.13 L500.91,851.67 L503.43,849.43 L505.95,847.40 L508.48,845.55 L511.00,843.88 L513.53,842.37 L516.05,841.01 L518.58,839.78 L521.10,838.68 L523.63,837.70 L526.15,836.82 L528.68,836.03 L531.20,835.32 L533.73,834.69 L536.25,834.13 L538.77,833.64 L541.30,833.19 L543.82,832.80 L546.35,832.45 L548.87,832.13 L551.40,831.86 L553.92,831.61 L556.45,831.39 L558.97,831.20 L561.50,831.03 L564.02,830.88 L566.55,830.74 L569.07,830.62 L571.59,830.52 L574.12,830.42 L576.64,830.34 L579.17,830.27 L581.69,830.20 L584.22,830.14 L586.74,830.09 L589.27,830.05 L591.79,830.01 L594.32,829.97 L596.84,829.94 L599.37,829.91 L601.89,829.89 L604.42,829.87 L606.94,829.85 L609.46,829.83 L611.99,829.81 L614.51,829.80 L617.04,829.79 L619.56,829.78 L622.09,829.77 L624.61,829.76 L627.14,829.75 L629.66,829.75 L632.19,829.74 L634.71,829.74 L637.24,829.73 L639.76,829.73 L642.28,829.72 L644.81,829.72 L647.33,829.72 L649.86,829.72 L652.38,829.71 L654.91,829.71 L657.43,829.71 L659.96,829.71 L662.48,829.71 L665.01,829.71 L667.53,829.71 L670.06,829.70 L672.58,829.70 L675.10,829.70 L677.63,829.70 L680.15,829.70 L682.68,829.70 L685.20,829.70 L687.73,829.70 L690.25,829.70 L692.78,829.70 L695.30,829.70 L697.83,829.70 L700.35,829.70 L702.88,829.70 L705.40,829.70" fill="none" stroke="#ff0066" stroke-width="2.2" stroke-linejoin="round"/>
<path d="M203.00,1143.38 L205.52,1143.31 L208.05,1143.23 L210.57,1143.16 L213.10,1143.08 L215.62,1143.00 L218.15,1142.92 L220.67,1142.83 L223.20,1142.74 L225.72,1142.65 L228.25,1142.55 L230.77,1142.45 L233.30,1142.35 L235.82,1142.25 L238.34,1142.14 L240.87,1142.02 L243.39,1141.90 L245.92,1141.78 L248.44,1141.66 L250.97,1141.53 L253.49,1141.39 L256.02,1141.25 L258.54,1141.11 L261.07,1140.96 L263.59,1140.80 L266.12,1140.64 L268.64,1140.47 L271.16,1140.30 L273.69,1140.12 L276.21,1139.94 L278.74,1139.75 L281.26,1139.55 L283.79,1139.34 L286.31,1139.13 L288.84,1138.91 L291.36,1138.68 L293.89,1138.45 L296.41,1138.20 L298.94,1137.95 L301.46,1137.69 L303.98,1137.42 L306.51,1137.14 L309.03,1136.85 L311.56,1136.55 L314.08,1136.24 L316.61,1135.92 L319.13,1135.59 L321.66,1135.24 L324.18,1134.89 L326.71,1134.52 L329.23,1134.14 L331.76,1133.74 L334.28,1133.33 L336.81,1132.91 L339.33,1132.47 L341.85,1132.01 L344.38,1131.54 L346.90,1131.06 L349.43,1130.55 L351.95,1130.03 L354.48,1129.49 L357.00,1128.93 L359.53,1128.36 L362.05,1127.76 L364.58,1127.14 L367.10,1126.50 L369.63,1125.83 L372.15,1125.14 L374.67,1124.43 L377.20,1123.70 L379.72,1122.93 L382.25,1122.14 L384.77,1121.33 L387.30,1120.48 L389.82,1119.60 L392.35,1118.70 L394.87,1117.76 L397.40,1116.79 L399.92,1115.78 L402.45,1114.74 L404.97,1113.66 L407.49,1112.55 L410.02,1111.39 L412.54,1110.20 L415.07,1108.96 L417.59,1107.68 L420.12,1106.36 L422.64,1104.98 L425.17,1103.57 L427.69,1102.10 L430.22,1100.57 L432.74,1099.00 L435.27,1097.37 L437.79,1095.69 L440.31,1093.94 L442.84,1092.14 L445.36,1090.27 L447.89,1088.33 L450.41,1086.33 L452.94,1084.26 L455.46,1082.12 L457.99,1079.91 L460.51,1077.61 L463.04,1075.24 L465.56,1072.79 L468.09,1070.25 L470.61,1067.63 L473.13,1064.92 L475.66,1062.12 L478.18,1059.22 L480.71,1056.22 L483.23,1053.13 L485.76,1049.93 L488.28,1046.63 L490.81,1043.22 L493.33,1039.70 L495.86,1036.06 L498.38,1032.31 L500.91,1028.45 L503.43,1024.46 L505.95,1020.36 L508.48,1016.13 L511.00,1011.78 L513.53,1007.30 L516.05,1002.70 L518.58,997.97 L521.10,993.12 L523.63,988.15 L526.15,983.05 L528.68,977.84 L531.20,972.51 L533.73,967.08 L536.25,961.54 L538.77,955.90 L541.30,950.18 L543.82,944.38 L546.35,938.50 L548.87,932.58 L551.40,926.60 L553.92,920.60 L556.45,914.59 L558.97,908.58 L561.50,902.59 L564.02,896.64 L566.55,890.75 L569.07,884.94 L571.59,879.23 L574.12,873.63 L576.64,868.16 L579.17,862.84 L581.69,857.69 L584.22,852.72 L586.74,847.94 L589.27,843.36 L591.79,838.99 L594.32,834.84 L596.84,830.90 L599.37,827.19 L601.89,823.70 L604.42,820.43 L606.94,817.37 L609.46,814.53 L611.99,811.88 L614.51,809.43 L617.04,807.17 L619.56,805.08 L622.09,803.16 L624.61,801.40 L627.14,799.79 L629.66,798.32 L632.19,796.97 L634.71,795.75 L637.24,794.63 L639.76,793.62 L642.28,792.70 L644.81,791.86 L647.33,791.11 L649.86,790.42 L652.38,789.81 L654.91,789.25 L657.43,788.74 L659.96,788.29 L662.48,787.88 L665.01,787.50 L667.53,787.17 L670.06,786.87 L672.58,786.60 L675.10,786.36 L677.63,786.14 L680.15,785.94 L682.68,785.76 L685.20,785.60 L687.73,785.46 L690.25,785.33 L692.78,785.21 L695.30,785.11 L697.83,785.01 L700.35,784.93 L702.88,784.85 L705.40,784.79" fill="none" stroke="#000" stroke-width="2.2" stroke-linejoin="round"/>
<path d="M1148.90,1141.39 L1150.39,1141.34 L1151.87,1141.29 L1153.36,1141.24 L1154.85,1141.18 L1156.33,1141.12 L1157.82,1141.06 L1159.31,1140.99 L1160.80,1140.93 L1162.28,1140.86 L1163.77,1140.79 L1165.26,1140.71 L1166.74,1140.63 L1168.23,1140.55 L1169.72,1140.47 L1171.20,1140.38 L1172.69,1140.29 L1174.18,1140.19 L1175.66,1140.10 L1177.15,1139.99 L1178.64,1139.89 L1180.13,1139.77 L1181.61,1139.66 L1183.10,1139.54 L1184.59,1139.41 L1186.07,1139.28 L1187.56,1139.15 L1189.05,1139.01 L1190.53,1138.86 L1192.02,1138.71 L1193.51,1138.55 L1194.99,1138.39 L1196.48,1138.22 L1197.97,1138.04 L1199.46,1137.86 L1200.94,1137.66 L1202.43,1137.46 L1203.92,1137.26 L1205.40,1137.04 L1206.89,1136.82 L1208.38,1136.58 L1209.86,1136.34 L1211.35,1136.09 L1212.84,1135.82 L1214.33,1135.55 L1215.81,1135.26 L1217.30,1134.97 L1218.79,1134.66 L1220.27,1134.34 L1221.76,1134.01 L1223.25,1133.66 L1224.73,1133.30 L1226.22,1132.93 L1227.71,1132.54 L1229.19,1132.13 L1230.68,1131.71 L1232.17,1131.27 L1233.66,1130.82 L1235.14,1130.35 L1236.63,1129.85 L1238.12,1129.34 L1239.60,1128.81 L1241.09,1128.25 L1242.58,1127.68 L1244.06,1127.08 L1245.55,1126.46 L1247.04,1125.81 L1248.52,1125.14 L1250.01,1124.44 L1251.50,1123.71 L1252.99,1122.95 L1254.47,1122.16 L1255.96,1121.34 L1257.45,1120.49 L1258.93,1119.61 L1260.42,1118.69 L1261.91,1117.73 L1263.39,1116.74 L1264.88,1115.70 L1266.37,1114.63 L1267.85,1113.51 L1269.34,1112.35 L1270.83,1111.14 L1272.32,1109.89 L1273.80,1108.58 L1275.29,1107.23 L1276.78,1105.82 L1278.26,1104.35 L1279.75,1102.83 L1281.24,1101.25 L1282.72,1099.61 L1284.21,1097.90 L1285.70,1096.13 L1287.18,1094.29 L1288.67,1092.38 L1290.16,1090.40 L1291.65,1088.34 L1293.13,1086.20 L1294.62,1083.98 L1296.11,1081.68 L1297.59,1079.29 L1299.08,1076.81 L1300.57,1074.24 L1302.05,1071.58 L1303.54,1068.82 L1305.03,1065.96 L1306.52,1063.00 L1308.00,1059.93 L1309.49,1056.76 L1310.98,1053.47 L1312.46,1050.08 L1313.95,1046.57 L1315.44,1042.94 L1316.92,1039.20 L1318.41,1035.34 L1319.90,1031.35 L1321.38,1027.25 L1322.87,1023.03 L1324.36,1018.68 L1325.85,1014.21 L1327.33,1009.63 L1328.82,1004.92 L1330.31,1000.10 L1331.79,995.17 L1333.28,990.13 L1334.77,984.98 L1336.25,979.73 L1337.74,974.39 L1339.23,968.96 L1340.71,963.45 L1342.20,957.87 L1343.69,952.23 L1345.18,946.54 L1346.66,940.81 L1348.15,935.06 L1349.64,929.28 L1351.12,923.51 L1352.61,917.74 L1354.10,912.00 L1355.58,906.30 L1357.07,900.66 L1358.56,895.08 L1360.04,889.58 L1361.53,884.18 L1363.02,878.88 L1364.51,873.70 L1365.99,868.65 L1367.48,863.74 L1368.97,858.98 L1370.45,854.37 L1371.94,849.93 L1373.43,845.65 L1374.91,841.55 L1376.40,837.62 L1377.89,833.86 L1379.37,830.29 L1380.86,826.88 L1382.35,823.66 L1383.84,820.60 L1385.32,817.71 L1386.81,814.99 L1388.30,812.43 L1389.78,810.02 L1391.27,807.75 L1392.76,805.64 L1394.24,803.65 L1395.73,801.80 L1397.22,800.07 L1398.71,798.46 L1400.19,796.97 L1401.68,795.57 L1403.17,794.28 L1404.65,793.07 L1406.14,791.96 L1407.63,790.93 L1409.11,789.97 L1410.60,789.09 L1412.09,788.27 L1413.57,787.51 L1415.06,786.82 L1416.55,786.17 L1418.04,785.58 L1419.52,785.03 L1421.01,784.52 L1422.50,784.06 L1423.98,783.63 L1425.47,783.23 L1426.96,782.87 L1428.44,782.54 L1429.93,782.23 L1431.42,781.95 L1432.90,781.68 L1434.39,781.44 L1435.88,781.22 L1437.37,781.02 L1438.85,780.84 L1440.34,780.66 L1441.83,780.51 L1443.31,780.36 L1444.80,780.23" fill="none" stroke="#ff0066" stroke-width="2.2" stroke-linejoin="round"/>
<path d="M1148.90,1144.74 L1150.57,1144.72 L1152.25,1144.70 L1153.92,1144.68 L1155.60,1144.66 L1157.27,1144.64 L1158.95,1144.62 L1160.62,1144.59 L1162.30,1144.57 L1163.97,1144.54 L1165.65,1144.51 L1167.32,1144.48 L1169.00,1144.45 L1170.67,1144.42 L1172.35,1144.39 L1174.02,1144.36 L1175.70,1144.32 L1177.37,1144.29 L1179.05,1144.25 L1180.72,1144.21 L1182.40,1144.17 L1184.07,1144.13 L1185.75,1144.08 L1187.42,1144.04 L1189.10,1143.99 L1190.77,1143.94 L1192.45,1143.89 L1194.12,1143.83 L1195.80,1143.78 L1197.47,1143.72 L1199.15,1143.66 L1200.82,1143.59 L1202.50,1143.53 L1204.17,1143.46 L1205.85,1143.39 L1207.52,1143.31 L1209.20,1143.24 L1210.87,1143.15 L1212.55,1143.07 L1214.22,1142.98 L1215.89,1142.89 L1217.57,1142.80 L1219.24,1142.70 L1220.92,1142.59 L1222.59,1142.49 L1224.27,1142.38 L1225.94,1142.26 L1227.62,1142.14 L1229.29,1142.01 L1230.97,1141.88 L1232.64,1141.75 L1234.32,1141.60 L1235.99,1141.46 L1237.67,1141.30 L1239.34,1141.14 L1241.02,1140.97 L1242.69,1140.80 L1244.37,1140.62 L1246.04,1140.43 L1247.72,1140.24 L1249.39,1140.03 L1251.07,1139.82 L1252.74,1139.60 L1254.42,1139.37 L1256.09,1139.13 L1257.77,1138.88 L1259.44,1138.62 L1261.12,1138.35 L1262.79,1138.07 L1264.47,1137.78 L1266.14,1137.47 L1267.82,1137.16 L1269.49,1136.83 L1271.17,1136.48 L1272.84,1136.13 L1274.52,1135.75 L1276.19,1135.37 L1277.87,1134.96 L1279.54,1134.54 L1281.22,1134.11 L1282.89,1133.65 L1284.56,1133.18 L1286.24,1132.69 L1287.91,1132.17 L1289.59,1131.64 L1291.26,1131.09 L1292.94,1130.51 L1294.61,1129.91 L1296.29,1129.28 L1297.96,1128.63 L1299.64,1127.96 L1301.31,1127.25 L1302.99,1126.52 L1304.66,1125.76 L1306.34,1124.96 L1308.01,1124.14 L1309.69,1123.28 L1311.36,1122.39 L1313.04,1121.46 L1314.71,1120.49 L1316.39,1119.49 L1318.06,1118.44 L1319.74,1117.36 L1321.41,1116.23 L1323.09,1115.05 L1324.76,1113.83 L1326.44,1112.57 L1328.11,1111.25 L1329.79,1109.88 L1331.46,1108.45 L1333.14,1106.97 L1334.81,1105.44 L1336.49,1103.84 L1338.16,1102.19 L1339.84,1100.47 L1341.51,1098.68 L1343.19,1096.83 L1344.86,1094.90 L1346.54,1092.91 L1348.21,1090.84 L1349.88,1088.69 L1351.56,1086.47 L1353.23,1084.16 L1354.91,1081.77 L1356.58,1079.30 L1358.26,1076.74 L1359.93,1074.08 L1361.61,1071.34 L1363.28,1068.50 L1364.96,1065.57 L1366.63,1062.54 L1368.31,1059.41 L1369.98,1056.18 L1371.66,1052.84 L1373.33,1049.40 L1375.01,1045.86 L1376.68,1042.21 L1378.36,1038.45 L1380.03,1034.59 L1381.71,1030.62 L1383.38,1026.55 L1385.06,1022.36 L1386.73,1018.08 L1388.41,1013.68 L1390.08,1009.19 L1391.76,1004.59 L1393.43,999.90 L1395.11,995.12 L1396.78,990.24 L1398.46,985.28 L1400.13,980.23 L1401.81,975.11 L1403.48,969.91 L1405.16,964.66 L1406.83,959.34 L1408.51,953.97 L1410.18,948.56 L1411.86,943.11 L1413.53,937.63 L1415.21,932.14 L1416.88,926.64 L1418.55,921.13 L1420.23,915.63 L1421.90,910.16 L1423.58,904.70 L1425.25,899.29 L1426.93,893.92 L1428.60,888.61 L1430.28,883.36 L1431.95,878.19 L1433.63,873.09 L1435.30,868.09 L1436.98,863.18 L1438.65,858.37 L1440.33,853.67 L1442.00,849.08 L1443.68,844.61 L1445.35,840.27 L1447.03,836.05 L1448.70,831.97 L1450.38,828.01 L1452.05,824.19 L1453.73,820.50 L1455.40,816.95 L1457.08,813.53 L1458.75,810.24 L1460.43,807.09 L1462.10,804.07 L1463.78,801.19 L1465.45,798.42 L1467.13,795.79 L1468.80,793.27 L1470.48,790.87 L1472.15,788.59 L1473.83,786.42 L1475.50,784.36 L1477.18,782.41 L1478.85,780.55 L1480.53,778.80 L1482.20,777.13" fill="none" stroke="#000" stroke-width="2.2" stroke-linejoin="round"/>
<path d="M203.00,1702.20 L205.52,1701.49 L208.05,1700.77 L210.57,1700.04 L213.10,1699.31 L215.62,1698.56 L218.15,1697.80 L220.67,1697.03 L223.20,1696.25 L225.72,1695.46 L228.25,1694.66 L230.77,1693.84 L233.30,1693.02 L235.82,1692.19 L238.34,1691.34 L240.87,1690.48 L243.39,1689.61 L245.92,1688.73 L248.44,1687.84 L250.97,1686.94 L253.49,1686.02 L256.02,1685.09 L258.54,1684.15 L261.07,1683.20 L263.59,1682.23 L266.12,1681.25 L268.64,1680.26 L271.16,1679.25 L273.69,1678.24 L276.21,1677.20 L278.74,1676.16 L281.26,1675.10 L283.79,1674.02 L286.31,1672.93 L288.84,1671.83 L291.36,1670.71 L293.89,1669.58 L296.41,1668.44 L298.94,1667.27 L301.46,1666.10 L303.98,1664.91 L306.51,1663.70 L309.03,1662.48 L311.56,1661.24 L314.08,1659.98 L316.61,1658.71 L319.13,1657.42 L321.66,1656.12 L324.18,1654.80 L326.71,1653.46 L329.23,1652.11 L331.76,1650.74 L334.28,1649.35 L336.81,1647.95 L339.33,1646.53 L341.85,1645.09 L344.38,1643.63 L346.90,1642.16 L349.43,1640.67 L351.95,1639.16 L354.48,1637.63 L357.00,1636.09 L359.53,1634.53 L362.05,1632.95 L364.58,1631.35 L367.10,1629.73 L369.63,1628.10 L372.15,1626.44 L374.67,1624.77 L377.20,1623.08 L379.72,1621.38 L382.25,1619.65 L384.77,1617.91 L387.30,1616.15 L389.82,1614.37 L392.35,1612.58 L394.87,1610.76 L397.40,1608.93 L399.92,1607.09 L402.45,1605.22 L404.97,1603.34 L407.49,1601.45 L410.02,1599.54 L412.54,1597.61 L415.07,1595.67 L417.59,1593.71 L420.12,1591.74 L422.64,1589.75 L425.17,1587.75 L427.69,1585.74 L430.22,1583.72 L432.74,1581.68 L435.27,1579.64 L437.79,1577.58 L440.31,1575.51 L442.84,1573.44 L445.36,1571.35 L447.89,1569.26 L450.41,1567.17 L452.94,1565.06 L455.46,1562.96 L457.99,1560.85 L460.51,1558.74 L463.04,1556.62 L465.56,1554.51 L468.09,1552.39 L470.61,1550.28 L473.13,1548.17 L475.66,1546.07 L478.18,1543.97 L480.71,1541.88 L483.23,1539.79 L485.76,1537.72 L488.28,1535.66 L490.81,1533.60 L493.33,1531.57 L495.86,1529.54 L498.38,1527.53 L500.91,1525.54 L503.43,1523.57 L505.95,1521.61 L508.48,1519.68 L511.00,1517.77 L513.53,1515.88 L516.05,1514.02 L518.58,1512.18 L521.10,1510.37 L523.63,1508.59 L526.15,1506.83 L528.68,1505.10 L531.20,1503.41 L533.73,1501.74 L536.25,1500.11 L538.77,1498.50 L541.30,1496.94 L543.82,1495.40 L546.35,1493.90 L548.87,1492.43 L551.40,1491.00 L553.92,1489.60 L556.45,1488.23 L558.97,1486.90 L561.50,1485.61 L564.02,1484.35 L566.55,1483.12 L569.07,1481.93 L571.59,1480.78 L574.12,1479.66 L576.64,1478.57 L579.17,1477.52 L581.69,1476.49 L584.22,1475.51 L586.74,1474.55 L589.27,1473.63 L591.79,1472.74 L594.32,1471.87 L596.84,1471.04 L599.37,1470.24 L601.89,1469.47 L604.42,1468.72 L606.94,1468.00 L609.46,1467.31 L611.99,1466.64 L614.51,1466.00 L617.04,1465.39 L619.56,1464.80 L622.09,1464.23 L624.61,1463.68 L627.14,1463.16 L629.66,1462.66 L632.19,1462.18 L634.71,1461.71 L637.24,1461.27 L639.76,1460.84 L642.28,1460.44 L644.81,1460.05 L647.33,1459.67 L649.86,1459.32 L652.38,1458.97 L654.91,1458.65 L657.43,1458.33 L659.96,1458.03 L662.48,1457.75 L665.01,1457.47 L667.53,1457.21 L670.06,1456.96 L672.58,1456.72 L675.10,1456.50 L677.63,1456.28 L680.15,1456.07 L682.68,1455.87 L685.20,1455.68 L687.73,1455.50 L690.25,1455.33 L692.78,1455.16 L695.30,1455.00 L697.83,1454.85 L700.35,1454.71 L702.88,1454.57 L705.40,1454.44" fill="none" stroke="#ff0066" stroke-width="2.2" stroke-linejoin="round"/>
<path d="M203.00,1781.04 L205.52,1781.02 L208.05,1781.00 L210.57,1780.98 L213.10,1780.95 L215.62,1780.93 L218.15,1780.90 L220.67,1780.88 L223.20,1780.85 L225.72,1780.82 L228.25,1780.80 L230.77,1780.76 L233.30,1780.73 L235.82,1780.70 L238.34,1780.66 L240.87,1780.63 L243.39,1780.59 L245.92,1780.55 L248.44,1780.51 L250.97,1780.47 L253.49,1780.42 L256.02,1780.37 L258.54,1780.32 L261.07,1780.27 L263.59,1780.22 L266.12,1780.16 L268.64,1780.11 L271.16,1780.04 L273.69,1779.98 L276.21,1779.91 L278.74,1779.84 L281.26,1779.77 L283.79,1779.70 L286.31,1779.62 L288.84,1779.53 L291.36,1779.45 L293.89,1779.36 L296.41,1779.26 L298.94,1779.16 L301.46,1779.06 L303.98,1778.95 L306.51,1778.84 L309.03,1778.72 L311.56,1778.60 L314.08,1778.47 L316.61,1778.34 L319.13,1778.20 L321.66,1778.05 L324.18,1777.90 L326.71,1777.74 L329.23,1777.58 L331.76,1777.40 L334.28,1777.22 L336.81,1777.04 L339.33,1776.84 L341.85,1776.63 L344.38,1776.42 L346.90,1776.19 L349.43,1775.96 L351.95,1775.71 L354.48,1775.46 L357.00,1775.19 L359.53,1774.91 L362.05,1774.62 L364.58,1774.31 L367.10,1774.00 L369.63,1773.66 L372.15,1773.32 L374.67,1772.96 L377.20,1772.58 L379.72,1772.18 L382.25,1771.77 L384.77,1771.34 L387.30,1770.89 L389.82,1770.42 L392.35,1769.93 L394.87,1769.42 L397.40,1768.88 L399.92,1768.32 L402.45,1767.74 L404.97,1767.13 L407.49,1766.49 L410.02,1765.83 L412.54,1765.14 L415.07,1764.41 L417.59,1763.66 L420.12,1762.87 L422.64,1762.04 L425.17,1761.18 L427.69,1760.28 L430.22,1759.34 L432.74,1758.36 L435.27,1757.34 L437.79,1756.27 L440.31,1755.15 L442.84,1753.99 L445.36,1752.77 L447.89,1751.50 L450.41,1750.17 L452.94,1748.79 L455.46,1747.34 L457.99,1745.84 L460.51,1744.26 L463.04,1742.62 L465.56,1740.91 L468.09,1739.12 L470.61,1737.25 L473.13,1735.30 L475.66,1733.27 L478.18,1731.15 L480.71,1728.94 L483.23,1726.64 L485.76,1724.24 L488.28,1721.73 L490.81,1719.12 L493.33,1716.40 L495.86,1713.57 L498.38,1710.62 L500.91,1707.55 L503.43,1704.35 L505.95,1701.02 L508.48,1697.57 L511.00,1693.97 L513.53,1690.24 L516.05,1686.36 L518.58,1682.33 L521.10,1678.16 L523.63,1673.84 L526.15,1669.36 L528.68,1664.73 L531.20,1659.94 L533.73,1655.00 L536.25,1649.90 L538.77,1644.65 L541.30,1639.25 L543.82,1633.71 L546.35,1628.03 L548.87,1622.21 L551.40,1616.27 L553.92,1610.22 L556.45,1604.06 L558.97,1597.81 L561.50,1591.49 L564.02,1585.10 L566.55,1578.67 L569.07,1572.22 L571.59,1565.77 L574.12,1559.33 L576.64,1552.94 L579.17,1546.60 L581.69,1540.35 L584.22,1534.21 L586.74,1528.19 L589.27,1522.32 L591.79,1516.62 L594.32,1511.10 L596.84,1505.77 L599.37,1500.66 L601.89,1495.76 L604.42,1491.10 L606.94,1486.67 L609.46,1482.47 L611.99,1478.51 L614.51,1474.79 L617.04,1471.31 L619.56,1468.05 L622.09,1465.01 L624.61,1462.19 L627.14,1459.58 L629.66,1457.16 L632.19,1454.93 L634.71,1452.88 L637.24,1450.99 L639.76,1449.26 L642.28,1447.67 L644.81,1446.22 L647.33,1444.90 L649.86,1443.69 L652.38,1442.59 L654.91,1441.59 L657.43,1440.68 L659.96,1439.86 L662.48,1439.11 L665.01,1438.43 L667.53,1437.81 L670.06,1437.25 L672.58,1436.75 L675.10,1436.29 L677.63,1435.88 L680.15,1435.51 L682.68,1435.17 L685.20,1434.87 L687.73,1434.59 L690.25,1434.34 L692.78,1434.12 L695.30,1433.92 L697.83,1433.73 L700.35,1433.57 L702.88,1433.42 L705.40,1433.29" fill="none" stroke="#000" stroke-width="2.2" stroke-linejoin="round"/>
<path d="M980.70,1773.07 L983.22,1773.00 L985.74,1772.93 L988.26,1772.85 L990.78,1772.76 L993.30,1772.66 L995.81,1772.55 L998.33,1772.44 L1000.85,1772.31 L1003.37,1772.17 L1005.89,1772.01 L1008.41,1771.84 L1010.93,1771.66 L1013.45,1771.45 L1015.97,1771.23 L1018.49,1770.98 L1021.01,1770.71 L1023.52,1770.41 L1026.04,1770.08 L1028.56,1769.73 L1031.08,1769.33 L1033.60,1768.90 L1036.12,1768.42 L1038.64,1767.90 L1041.16,1767.33 L1043.68,1766.70 L1046.20,1766.02 L1048.72,1765.26 L1051.23,1764.43 L1053.75,1763.52 L1056.27,1762.52 L1058.79,1761.42 L1061.31,1760.22 L1063.83,1758.90 L1066.35,1757.46 L1068.87,1755.87 L1071.39,1754.14 L1073.91,1752.23 L1076.43,1750.15 L1078.94,1747.86 L1081.46,1745.37 L1083.98,1742.63 L1086.50,1739.64 L1089.02,1736.38 L1091.54,1732.82 L1094.06,1728.94 L1096.58,1724.71 L1099.10,1720.11 L1101.62,1715.12 L1104.14,1709.71 L1106.65,1703.87 L1109.17,1697.56 L1111.69,1690.78 L1114.21,1683.51 L1116.73,1675.76 L1119.25,1667.51 L1121.77,1658.79 L1124.29,1649.61 L1126.81,1640.01 L1129.33,1630.05 L1131.85,1619.77 L1134.36,1609.26 L1136.88,1598.61 L1139.40,1587.90 L1141.92,1577.25 L1144.44,1566.76 L1146.96,1556.54 L1149.48,1546.67 L1152.00,1537.25 L1154.52,1528.34 L1157.04,1520.01 L1159.56,1512.29 L1162.07,1505.19 L1164.59,1498.73 L1167.11,1492.90 L1169.63,1487.67 L1172.15,1483.00 L1174.67,1478.87 L1177.19,1475.24 L1179.71,1472.05 L1182.23,1469.26 L1184.75,1466.84 L1187.27,1464.74 L1189.78,1462.93 L1192.30,1461.36 L1194.82,1460.01 L1197.34,1458.86 L1199.86,1457.87 L1202.38,1457.02 L1204.90,1456.29 L1207.42,1455.67 L1209.94,1455.14 L1212.46,1454.69 L1214.98,1454.30 L1217.49,1453.97 L1220.01,1453.69 L1222.53,1453.45 L1225.05,1453.25 L1227.57,1453.08 L1230.09,1452.93 L1232.61,1452.81 L1235.13,1452.70 L1237.65,1452.61 L1240.17,1452.53 L1242.69,1452.47 L1245.21,1452.41 L1247.72,1452.36 L1250.24,1452.32 L1252.76,1452.29 L1255.28,1452.26 L1257.80,1452.24 L1260.32,1452.21 L1262.84,1452.20 L1265.36,1452.18 L1267.88,1452.17 L1270.40,1452.16 L1272.92,1452.15 L1275.43,1452.14 L1277.95,1452.13 L1280.47,1452.13 L1282.99,1452.12 L1285.51,1452.12 L1288.03,1452.12 L1290.55,1452.11 L1293.07,1452.11 L1295.59,1452.11 L1298.11,1452.11 L1300.63,1452.11 L1303.14,1452.10 L1305.66,1452.10 L1308.18,1452.10 L1310.70,1452.10 L1313.22,1452.10 L1315.74,1452.10 L1318.26,1452.10 L1320.78,1452.10 L1323.30,1452.10 L1325.82,1452.10 L1328.34,1452.10 L1330.85,1452.10 L1333.37,1452.10 L1335.89,1452.10 L1338.41,1452.10 L1340.93,1452.10 L1343.45,1452.10 L1345.97,1452.10 L1348.49,1452.10 L1351.01,1452.10 L1353.53,1452.10 L1356.05,1452.10 L1358.56,1452.10 L1361.08,1452.10 L1363.60,1452.10 L1366.12,1452.10 L1368.64,1452.10 L1371.16,1452.10 L1373.68,1452.10 L1376.20,1452.10 L1378.72,1452.10 L1381.24,1452.10 L1383.76,1452.10 L1386.27,1452.10 L1388.79,1452.10 L1391.31,1452.10 L1393.83,1452.10 L1396.35,1452.10 L1398.87,1452.10 L1401.39,1452.10 L1403.91,1452.10 L1406.43,1452.10 L1408.95,1452.10 L1411.47,1452.10 L1413.98,1452.10 L1416.50,1452.10 L1419.02,1452.10 L1421.54,1452.10 L1424.06,1452.10 L1426.58,1452.10 L1429.10,1452.10 L1431.62,1452.10 L1434.14,1452.10 L1436.66,1452.10 L1439.18,1452.10 L1441.69,1452.10 L1444.21,1452.10 L1446.73,1452.10 L1449.25,1452.10 L1451.77,1452.10 L1454.29,1452.10 L1456.81,1452.10 L1459.33,1452.10 L1461.85,1452.10 L1464.37,1452.10 L1466.89,1452.10 L1469.40,1452.10 L1471.92,1452.10 L1474.44,1452.10 L1476.96,1452.10 L1479.48,1452.10 L1482.00,1452.10" fill="none" stroke="#ff0066" stroke-width="2.2" stroke-linejoin="round"/>
<path d="M980.70,1781.15 L983.22,1781.15 L985.74,1781.15 L988.26,1781.15 L990.78,1781.15 L993.30,1781.15 L995.81,1781.14 L998.33,1781.14 L1000.85,1781.14 L1003.37,1781.14 L1005.89,1781.14 L1008.41,1781.14 L1010.93,1781.14 L1013.45,1781.14 L1015.97,1781.14 L1018.49,1781.14 L1021.01,1781.14 L1023.52,1781.14 L1026.04,1781.14 L1028.56,1781.14 L1031.08,1781.13 L1033.60,1781.13 L1036.12,1781.13 L1038.64,1781.13 L1041.16,1781.13 L1043.68,1781.12 L1046.20,1781.12 L1048.72,1781.12 L1051.23,1781.11 L1053.75,1781.11 L1056.27,1781.10 L1058.79,1781.10 L1061.31,1781.09 L1063.83,1781.08 L1066.35,1781.07 L1068.87,1781.06 L1071.39,1781.05 L1073.91,1781.03 L1076.43,1781.01 L1078.94,1781.00 L1081.46,1780.97 L1083.98,1780.95 L1086.50,1780.92 L1089.02,1780.89 L1091.54,1780.85 L1094.06,1780.81 L1096.58,1780.76 L1099.10,1780.71 L1101.62,1780.64 L1104.14,1780.57 L1106.65,1780.49 L1109.17,1780.40 L1111.69,1780.29 L1114.21,1780.16 L1116.73,1780.02 L1119.25,1779.86 L1121.77,1779.68 L1124.29,1779.47 L1126.81,1779.23 L1129.33,1778.95 L1131.85,1778.64 L1134.36,1778.28 L1136.88,1777.87 L1139.40,1777.40 L1141.92,1776.86 L1144.44,1776.25 L1146.96,1775.55 L1149.48,1774.75 L1152.00,1773.84 L1154.52,1772.80 L1157.04,1771.61 L1159.56,1770.25 L1162.07,1768.70 L1164.59,1766.93 L1167.11,1764.92 L1169.63,1762.63 L1172.15,1760.02 L1174.67,1757.06 L1177.19,1753.69 L1179.71,1749.88 L1182.23,1745.56 L1184.75,1740.69 L1187.27,1735.20 L1189.78,1729.03 L1192.30,1722.14 L1194.82,1714.45 L1197.34,1705.94 L1199.86,1696.54 L1202.38,1686.26 L1204.90,1675.09 L1207.42,1663.07 L1209.94,1650.24 L1212.46,1636.72 L1214.98,1622.64 L1217.49,1608.17 L1220.01,1593.51 L1222.53,1578.87 L1225.05,1564.49 L1227.57,1550.57 L1230.09,1537.31 L1232.61,1524.87 L1235.13,1513.37 L1237.65,1502.88 L1240.17,1493.44 L1242.69,1485.03 L1245.21,1477.64 L1247.72,1471.19 L1250.24,1465.61 L1252.76,1460.82 L1255.28,1456.74 L1257.80,1453.27 L1260.32,1450.34 L1262.84,1447.88 L1265.36,1445.81 L1267.88,1444.08 L1270.40,1442.64 L1272.92,1441.44 L1275.43,1440.44 L1277.95,1439.61 L1280.47,1438.93 L1282.99,1438.36 L1285.51,1437.89 L1288.03,1437.50 L1290.55,1437.17 L1293.07,1436.91 L1295.59,1436.69 L1298.11,1436.51 L1300.63,1436.36 L1303.14,1436.23 L1305.66,1436.13 L1308.18,1436.04 L1310.70,1435.97 L1313.22,1435.92 L1315.74,1435.87 L1318.26,1435.83 L1320.78,1435.80 L1323.30,1435.77 L1325.82,1435.75 L1328.34,1435.73 L1330.85,1435.72 L1333.37,1435.70 L1335.89,1435.69 L1338.41,1435.69 L1340.93,1435.68 L1343.45,1435.67 L1345.97,1435.67 L1348.49,1435.66 L1351.01,1435.66 L1353.53,1435.66 L1356.05,1435.66 L1358.56,1435.65 L1361.08,1435.65 L1363.60,1435.65 L1366.12,1435.65 L1368.64,1435.65 L1371.16,1435.65 L1373.68,1435.65 L1376.20,1435.65 L1378.72,1435.65 L1381.24,1435.65 L1383.76,1435.65 L1386.27,1435.65 L1388.79,1435.65 L1391.31,1435.65 L1393.83,1435.65 L1396.35,1435.65 L1398.87,1435.65 L1401.39,1435.65 L1403.91,1435.65 L1406.43,1435.65 L1408.95,1435.65 L1411.47,1435.65 L1413.98,1435.65 L1416.50,1435.65 L1419.02,1435.65 L1421.54,1435.65 L1424.06,1435.65 L1426.58,1435.65 L1429.10,1435.65 L1431.62,1435.65 L1434.14,1435.65 L1436.66,1435.65 L1439.18,1435.65 L1441.69,1435.65 L1444.21,1435.65 L1446.73,1435.65 L1449.25,1435.65 L1451.77,1435.65 L1454.29,1435.65 L1456.81,1435.65 L1459.33,1435.65 L1461.85,1435.65 L1464.37,1435.65 L1466.89,1435.65 L1469.40,1435.65 L1471.92,1435.65 L1474.44,1435.65 L1476.96,1435.65 L1479.48,1435.65 L1482.00,1435.65" fill="none" stroke="#000" stroke-width="2.2" stroke-linejoin="round"/>
<line x1="152.00" y1="522.10" x2="176.60" y2="522.10" stroke="#ff0066" stroke-width="2.2"/>
<line x1="152.00" y1="1143.10" x2="176.60" y2="1143.10" stroke="#ff0066" stroke-width="2.2"/>
<line x1="152.00" y1="1736.80" x2="176.60" y2="1736.80" stroke="#ff0066" stroke-width="2.2"/>
<line x1="929.00" y1="1778.50" x2="953.60" y2="1778.50" stroke="#ff0066" stroke-width="2.2"/>
<circle cx="152.00" cy="522.10" r="4.9" fill="#ff0066"/>
<rect x="316.20" y="485.60" width="8.2" height="8.2" fill="#ff0066"/>
<rect x="405.30" y="407.10" width="8.2" height="8.2" fill="#ff0066"/>
<rect x="494.80" y="264.10" width="8.2" height="8.2" fill="#ff0066"/>
<rect x="546.70" y="165.50" width="8.2" height="8.2" fill="#ff0066"/>
<rect x="583.40" y="165.50" width="8.2" height="8.2" fill="#ff0066"/>
<rect x="612.60" y="149.20" width="8.2" height="8.2" fill="#ff0066"/>
<rect x="635.60" y="166.00" width="8.2" height="8.2" fill="#ff0066"/>
<rect x="655.20" y="190.60" width="8.2" height="8.2" fill="#ff0066"/>
<circle cx="929.00" cy="522.10" r="4.9" fill="#ff0066"/>
<rect x="1182.00" y="340.80" width="8.2" height="8.2" fill="#ff0066"/>
<rect x="1271.20" y="195.00" width="8.2" height="8.2" fill="#ff0066"/>
<rect x="1323.60" y="197.30" width="8.2" height="8.2" fill="#ff0066"/>
<rect x="1360.60" y="173.90" width="8.2" height="8.2" fill="#ff0066"/>
<rect x="1389.20" y="161.60" width="8.2" height="8.2" fill="#ff0066"/>
<rect x="1441.40" y="161.60" width="8.2" height="8.2" fill="#ff0066"/>
<rect x="1478.20" y="149.80" width="8.2" height="8.2" fill="#ff0066"/>
<circle cx="152.00" cy="1143.10" r="4.9" fill="#ff0066"/>
<rect x="405.30" y="1029.20" width="8.2" height="8.2" fill="#ff0066"/>
<rect x="494.70" y="847.50" width="8.2" height="8.2" fill="#ff0066"/>
<rect x="546.60" y="841.50" width="8.2" height="8.2" fill="#ff0066"/>
<rect x="583.50" y="880.10" width="8.2" height="8.2" fill="#ff0066"/>
<rect x="611.90" y="809.10" width="8.2" height="8.2" fill="#ff0066"/>
<rect x="664.40" y="831.20" width="8.2" height="8.2" fill="#ff0066"/>
<rect x="701.30" y="770.10" width="8.2" height="8.2" fill="#ff0066"/>
<circle cx="929.00" cy="1143.10" r="4.9" fill="#ff0066"/>
<rect x="1182.30" y="1138.70" width="8.2" height="8.2" fill="#ff0066"/>
<rect x="1271.10" y="1105.50" width="8.2" height="8.2" fill="#ff0066"/>
<rect x="1323.60" y="1004.70" width="8.2" height="8.2" fill="#ff0066"/>
<rect x="1360.40" y="870.90" width="8.2" height="8.2" fill="#ff0066"/>
<rect x="1389.40" y="813.80" width="8.2" height="8.2" fill="#ff0066"/>
<rect x="1441.30" y="770.40" width="8.2" height="8.2" fill="#ff0066"/>
<rect x="147.90" y="1738.10" width="8.2" height="8.2" fill="#ff0066"/>
<rect x="405.30" y="1590.40" width="8.2" height="8.2" fill="#ff0066"/>
<rect x="494.70" y="1488.90" width="8.2" height="8.2" fill="#ff0066"/>
<rect x="546.60" y="1514.50" width="8.2" height="8.2" fill="#ff0066"/>
<rect x="583.50" y="1484.30" width="8.2" height="8.2" fill="#ff0066"/>
<rect x="612.60" y="1477.50" width="8.2" height="8.2" fill="#ff0066"/>
<rect x="635.70" y="1468.30" width="8.2" height="8.2" fill="#ff0066"/>
<rect x="655.20" y="1470.80" width="8.2" height="8.2" fill="#ff0066"/>
<rect x="687.50" y="1436.00" width="8.2" height="8.2" fill="#ff0066"/>
<rect x="701.30" y="1408.30" width="8.2" height="8.2" fill="#ff0066"/>
<circle cx="929.00" cy="1780.90" r="4.9" fill="#ff0066"/>
<rect x="1093.30" y="1714.40" width="8.2" height="8.2" fill="#ff0066"/>
<rect x="1145.80" y="1548.70" width="8.2" height="8.2" fill="#ff0066"/>
<rect x="1181.90" y="1442.30" width="8.2" height="8.2" fill="#ff0066"/>
<rect x="1234.40" y="1408.40" width="8.2" height="8.2" fill="#ff0066"/>
<rect x="1299.70" y="1448.70" width="8.2" height="8.2" fill="#ff0066"/>
<rect x="1389.00" y="1454.80" width="8.2" height="8.2" fill="#ff0066"/>
<rect x="1477.90" y="1495.90" width="8.2" height="8.2" fill="#ff0066"/>
<circle cx="152.00" cy="522.10" r="4.0" fill="#000"/>
<circle cx="320.30" cy="521.80" r="4.0" fill="#000"/>
<circle cx="409.50" cy="515.70" r="4.0" fill="#000"/>
<circle cx="498.80" cy="407.20" r="4.0" fill="#000"/>
<circle cx="550.80" cy="253.90" r="4.0" fill="#000"/>
<circle cx="587.50" cy="202.90" r="4.0" fill="#000"/>
<circle cx="616.40" cy="173.50" r="4.0" fill="#000"/>
<circle cx="639.70" cy="164.90" r="4.0" fill="#000"/>
<circle cx="659.30" cy="153.10" r="4.0" fill="#000"/>
<circle cx="929.00" cy="522.10" r="4.0" fill="#000"/>
<circle cx="1186.10" cy="477.70" r="4.0" fill="#000"/>
<circle cx="1275.30" cy="283.90" r="4.0" fill="#000"/>
<circle cx="1327.70" cy="283.90" r="4.0" fill="#000"/>
<circle cx="1364.70" cy="231.50" r="4.0" fill="#000"/>
<circle cx="1393.30" cy="212.10" r="4.0" fill="#000"/>
<circle cx="1445.50" cy="193.10" r="4.0" fill="#000"/>
<circle cx="1482.30" cy="153.90" r="4.0" fill="#000"/>
<circle cx="152.00" cy="1143.10" r="4.0" fill="#000"/>
<circle cx="409.40" cy="1125.60" r="4.0" fill="#000"/>
<circle cx="498.80" cy="1038.00" r="4.0" fill="#000"/>
<circle cx="550.70" cy="897.40" r="4.0" fill="#000"/>
<circle cx="587.60" cy="862.20" r="4.0" fill="#000"/>
<circle cx="616.00" cy="827.40" r="4.0" fill="#000"/>
<circle cx="668.50" cy="780.20" r="4.0" fill="#000"/>
<circle cx="705.40" cy="774.20" r="4.0" fill="#000"/>
<circle cx="929.00" cy="1143.10" r="4.0" fill="#000"/>
<circle cx="1186.40" cy="1143.00" r="4.0" fill="#000"/>
<circle cx="1275.20" cy="1143.00" r="4.0" fill="#000"/>
<circle cx="1327.70" cy="1113.30" r="4.0" fill="#000"/>
<circle cx="1393.50" cy="1000.00" r="4.0" fill="#000"/>
<circle cx="1445.40" cy="849.50" r="4.0" fill="#000"/>
<circle cx="1482.20" cy="774.50" r="4.0" fill="#000"/>
<circle cx="152.00" cy="1781.40" r="4.0" fill="#000"/>
<circle cx="409.40" cy="1773.40" r="4.0" fill="#000"/>
<circle cx="498.80" cy="1726.60" r="4.0" fill="#000"/>
<circle cx="550.70" cy="1610.50" r="4.0" fill="#000"/>
<circle cx="587.60" cy="1521.80" r="4.0" fill="#000"/>
<circle cx="616.70" cy="1493.40" r="4.0" fill="#000"/>
<circle cx="639.80" cy="1463.20" r="4.0" fill="#000"/>
<circle cx="659.30" cy="1452.50" r="4.0" fill="#000"/>
<circle cx="659.30" cy="1433.00" r="4.0" fill="#000"/>
<circle cx="691.60" cy="1428.40" r="4.0" fill="#000"/>
<circle cx="705.40" cy="1412.40" r="4.0" fill="#000"/>
<circle cx="929.00" cy="1780.90" r="4.0" fill="#000"/>
<circle cx="1097.40" cy="1780.20" r="4.0" fill="#000"/>
<circle cx="1149.20" cy="1780.20" r="4.0" fill="#000"/>
<circle cx="1186.00" cy="1735.60" r="4.0" fill="#000"/>
<circle cx="1238.50" cy="1503.50" r="4.0" fill="#000"/>
<circle cx="1303.80" cy="1412.50" r="4.0" fill="#000"/>
<circle cx="1393.10" cy="1432.10" r="4.0" fill="#000"/>
<circle cx="1482.00" cy="1463.50" r="4.0" fill="#000"/>
</svg></body></html>
